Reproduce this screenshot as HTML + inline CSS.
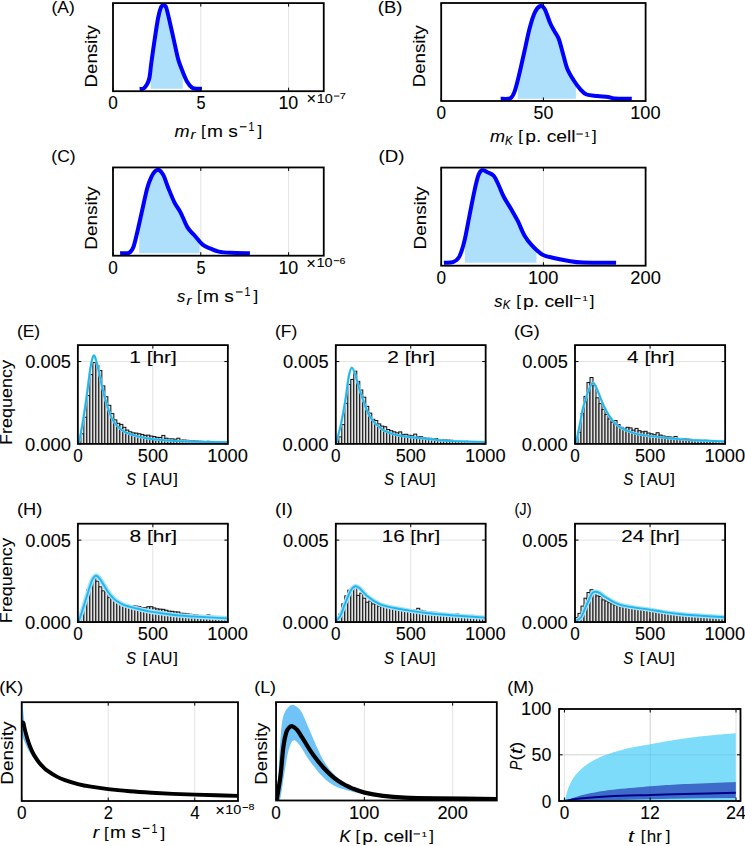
<!DOCTYPE html><html><head><meta charset="utf-8"><style>html,body{margin:0;padding:0;background:#fff;}svg{display:block;}text{font-family:"Liberation Sans",sans-serif;fill:#000;stroke:#000;stroke-width:0.08px;white-space:pre;}</style></head><body>
<svg width="745" height="846" viewBox="0 0 745 846">
<rect width="745" height="846" fill="#fff"/>
<line x1="200.81" y1="3.1" x2="200.81" y2="91.2" stroke="#e3e3e3" stroke-width="1"/>
<line x1="288.62" y1="3.1" x2="288.62" y2="91.2" stroke="#e3e3e3" stroke-width="1"/>
<clipPath id="c1"><rect x="113" y="3.1" width="210.75" height="88.1"/></clipPath><g clip-path="url(#c1)">
<polygon points="150.8,88.8 150.8,66.93 150.87,66.31 151,65.21 151.14,64.07 151.3,62.9 151.47,61.67 151.65,60.36 151.84,59 152.04,57.58 152.24,56.11 152.46,54.61 152.68,53.07 152.9,51.52 153.13,49.95 153.35,48.38 153.58,46.81 153.81,45.25 154.04,43.71 154.26,42.2 154.48,40.73 154.7,39.3 154.91,37.89 155.13,36.45 155.35,35.01 155.56,33.56 155.78,32.11 156,30.67 156.22,29.24 156.44,27.82 156.65,26.44 156.87,25.09 157.08,23.77 157.29,22.5 157.5,21.29 157.7,20.13 157.9,19.03 158.1,18 158.29,17.04 158.48,16.12 158.67,15.26 158.85,14.44 159.03,13.67 159.21,12.95 159.38,12.26 159.56,11.61 159.73,11 159.9,10.43 160.07,9.89 160.24,9.38 160.4,8.89 160.57,8.44 160.73,8.01 160.9,7.6 161.06,7.23 161.22,6.89 161.38,6.6 161.54,6.35 161.69,6.13 161.85,5.94 162,5.79 162.15,5.66 162.3,5.55 162.45,5.47 162.61,5.41 162.76,5.36 162.92,5.33 163.08,5.31 163.24,5.3 163.4,5.3 163.56,5.29 163.73,5.27 163.89,5.24 164.05,5.2 164.21,5.18 164.37,5.18 164.53,5.19 164.69,5.24 164.86,5.32 165.03,5.45 165.21,5.63 165.39,5.88 165.58,6.19 165.78,6.57 165.99,7.04 166.2,7.6 166.42,8.26 166.66,9.01 166.9,9.85 167.14,10.76 167.4,11.75 167.66,12.79 167.92,13.89 168.19,15.03 168.47,16.21 168.74,17.41 169.02,18.63 169.3,19.86 169.57,21.09 169.85,22.31 170.13,23.52 170.4,24.7 170.68,25.89 170.96,27.11 171.24,28.37 171.53,29.66 171.82,30.97 172.11,32.29 172.41,33.62 172.7,34.95 172.99,36.28 173.28,37.59 173.56,38.89 173.85,40.16 174.12,41.41 174.39,42.62 174.65,43.78 174.9,44.9 175.14,45.97 175.37,47.02 175.59,48.03 175.8,49.02 176.01,49.98 176.21,50.92 176.4,51.84 176.6,52.74 176.8,53.63 176.99,54.5 177.19,55.37 177.4,56.22 177.61,57.07 177.83,57.91 178.06,58.76 178.3,59.6 178.55,60.44 178.81,61.27 179.08,62.09 179.35,62.9 179.63,63.69 179.91,64.48 180.19,65.27 180.48,66.04 180.77,66.8 181.06,67.55 181.36,68.3 181.65,69.04 181.94,69.76 182.23,70.48 182.52,71.2 182.8,71.9 182.8,71.9 182.8,88.8" fill="#aee0fc"/>
<path d="M139.6,88.8 C140.25,88.77 142.23,89.4 143.5,88.6 C144.77,87.8 146.2,85.85 147.2,84 C148.2,82.15 148.82,81.02 149.5,77.5 C150.18,73.98 150.43,69.27 151.3,62.9 C152.17,56.53 153.57,46.78 154.7,39.3 C155.83,31.82 157.07,23.28 158.1,18 C159.13,12.72 160.02,9.72 160.9,7.6 C161.78,5.48 162.52,5.3 163.4,5.3 C164.28,5.3 165.03,4.37 166.2,7.6 C167.37,10.83 168.95,18.48 170.4,24.7 C171.85,30.92 173.58,39.08 174.9,44.9 C176.22,50.72 176.98,55.1 178.3,59.6 C179.62,64.1 181.3,68.17 182.8,71.9 C184.3,75.63 185.77,79.38 187.3,82 C188.83,84.62 190.55,86.48 192,87.6 C193.45,88.72 194.35,88.5 196,88.7 C197.65,88.9 200.92,88.78 201.9,88.8" fill="none" stroke="#0000ff" stroke-width="4.0" stroke-linejoin="round" stroke-linecap="butt"/>
</g>
<line x1="113" y1="91.2" x2="113" y2="87.7" stroke="#000" stroke-width="1"/>
<line x1="113" y1="3.1" x2="113" y2="6.6" stroke="#000" stroke-width="1"/>
<line x1="200.81" y1="91.2" x2="200.81" y2="87.7" stroke="#000" stroke-width="1"/>
<line x1="200.81" y1="3.1" x2="200.81" y2="6.6" stroke="#000" stroke-width="1"/>
<line x1="288.62" y1="91.2" x2="288.62" y2="87.7" stroke="#000" stroke-width="1"/>
<line x1="288.62" y1="3.1" x2="288.62" y2="6.6" stroke="#000" stroke-width="1"/>
<rect x="113" y="3.1" width="210.75" height="88.1" fill="none" stroke="#000" stroke-width="1.8"/>
<text x="108.3" y="109.2" font-size="18" textLength="9.54" lengthAdjust="spacingAndGlyphs">0</text>
<text x="196.39" y="109.2" font-size="18" textLength="9.07" lengthAdjust="spacingAndGlyphs">5</text>
<text x="278.46" y="109.2" font-size="18" textLength="19.85" lengthAdjust="spacingAndGlyphs">10</text>
<text x="306.55" y="104.1" font-size="16" textLength="9.58" lengthAdjust="spacingAndGlyphs">×</text>
<text x="316.72" y="102.6" font-size="12.6" textLength="16.02" lengthAdjust="spacingAndGlyphs">10</text>
<rect x="334" y="95.6" width="5.4" height="0.95"/>
<text x="339.75" y="99" font-size="8.6" textLength="6.11" lengthAdjust="spacingAndGlyphs">7</text>
<text x="51.56" y="12.75" font-size="17" textLength="23.14" lengthAdjust="spacingAndGlyphs">(A)</text>
<text transform="translate(96.6,86) rotate(-90)" x="-1.49" y="0" font-size="17" textLength="62.29" lengthAdjust="spacingAndGlyphs">Density</text>
<text x="174.63" y="136.8" font-size="17" font-style="italic" textLength="15.06" lengthAdjust="spacingAndGlyphs">m</text>
<text x="190.59" y="139.4" font-size="12" font-style="italic" textLength="5.04" lengthAdjust="spacingAndGlyphs">r</text>
<text x="201.04" y="135.9" font-size="15.3" textLength="4.67" lengthAdjust="spacingAndGlyphs">[</text>
<text x="206.98" y="136.8" font-size="17" textLength="30.83" lengthAdjust="spacingAndGlyphs">m s</text>
<rect x="239.92" y="126.2" width="6.6" height="1.15"/>
<text x="248.53" y="131.1" font-size="11.9" textLength="5.88" lengthAdjust="spacingAndGlyphs">1</text>
<text x="257.44" y="135.9" font-size="15.3" textLength="4.67" lengthAdjust="spacingAndGlyphs">]</text>
<line x1="543.4" y1="3" x2="543.4" y2="101" stroke="#e3e3e3" stroke-width="1"/>
<clipPath id="c2"><rect x="441.2" y="3" width="204.4" height="98"/></clipPath><g clip-path="url(#c2)">
<polygon points="517.9,98.8 517.9,79.74 518.13,78.81 518.41,77.63 518.7,76.43 519,75.2 519.31,73.93 519.62,72.61 519.95,71.23 520.28,69.81 520.61,68.36 520.95,66.87 521.29,65.36 521.64,63.83 521.99,62.28 522.33,60.72 522.68,59.16 523.03,57.6 523.38,56.05 523.72,54.51 524.06,52.99 524.4,51.5 524.73,50.01 525.07,48.49 525.4,46.96 525.73,45.42 526.06,43.87 526.39,42.31 526.72,40.76 527.05,39.22 527.38,37.7 527.71,36.2 528.04,34.72 528.37,33.27 528.7,31.86 529.03,30.49 529.37,29.17 529.7,27.9 530.03,26.67 530.37,25.46 530.71,24.27 531.04,23.11 531.38,21.97 531.72,20.86 532.06,19.78 532.39,18.74 532.73,17.73 533.07,16.75 533.41,15.82 533.75,14.93 534.09,14.07 534.42,13.27 534.76,12.51 535.1,11.8 535.44,11.14 535.78,10.52 536.13,9.95 536.48,9.41 536.82,8.92 537.17,8.48 537.52,8.07 537.87,7.69 538.21,7.36 538.56,7.06 538.89,6.8 539.23,6.58 539.56,6.38 539.88,6.22 540.19,6.1 540.5,6 540.8,5.93 541.08,5.9 541.36,5.89 541.63,5.92 541.89,5.98 542.15,6.08 542.4,6.21 542.66,6.38 542.91,6.58 543.16,6.83 543.42,7.12 543.68,7.44 543.95,7.82 544.22,8.23 544.51,8.69 544.8,9.2 545.11,9.78 545.42,10.46 545.75,11.21 546.08,12.04 546.42,12.92 546.76,13.85 547.1,14.81 547.45,15.79 547.8,16.79 548.14,17.78 548.48,18.75 548.82,19.7 549.15,20.61 549.48,21.48 549.79,22.27 550.1,23 550.4,23.66 550.69,24.29 550.97,24.88 551.25,25.44 551.52,25.97 551.79,26.48 552.05,26.97 552.31,27.44 552.57,27.9 552.83,28.35 553.09,28.8 553.35,29.24 553.61,29.69 553.87,30.15 554.13,30.62 554.4,31.1 554.67,31.58 554.94,32.02 555.21,32.45 555.47,32.86 555.74,33.26 556.01,33.66 556.28,34.06 556.55,34.47 556.82,34.89 557.09,35.33 557.36,35.8 557.62,36.29 557.89,36.82 558.16,37.4 558.43,38.02 558.7,38.7 558.97,39.43 559.24,40.22 559.51,41.05 559.78,41.93 560.04,42.84 560.31,43.78 560.58,44.75 560.85,45.74 561.12,46.74 561.39,47.75 561.66,48.76 561.92,49.78 562.19,50.78 562.46,51.77 562.73,52.75 563,53.7 563.26,54.64 563.52,55.6 563.77,56.56 564.02,57.52 564.27,58.49 564.52,59.47 564.76,60.43 565.01,61.4 565.27,62.36 565.53,63.31 565.79,64.25 566.07,65.18 566.36,66.09 566.66,66.98 566.97,67.85 567.3,68.7 567.65,69.53 568.01,70.35 568.38,71.16 568.77,71.95 569.17,72.73 569.58,73.5 570,74.26 570.42,75 570.84,75.73 571.27,76.45 571.7,77.16 572.13,77.85 572.56,78.53 572.98,79.2 573.39,79.86 573.8,80.5 574.2,81.13 574.6,81.75 575.01,82.36 575.41,82.95 575.81,83.53 575.9,83.66 575.9,98.8" fill="#aee0fc"/>
<path d="M500.7,98.8 C502.32,98.7 508.07,99.47 510.4,98.2 C512.73,96.93 513.27,95.03 514.7,91.2 C516.13,87.37 517.38,81.82 519,75.2 C520.62,68.58 522.62,59.38 524.4,51.5 C526.18,43.62 527.92,34.52 529.7,27.9 C531.48,21.28 533.3,15.45 535.1,11.8 C536.9,8.15 538.88,6.43 540.5,6 C542.12,5.57 543.2,6.37 544.8,9.2 C546.4,12.03 548.5,19.35 550.1,23 C551.7,26.65 552.97,28.48 554.4,31.1 C555.83,33.72 557.27,34.93 558.7,38.7 C560.13,42.47 561.57,48.7 563,53.7 C564.43,58.7 565.5,64.23 567.3,68.7 C569.1,73.17 571.65,77.1 573.8,80.5 C575.95,83.9 578.07,86.77 580.2,89.1 C582.33,91.43 583.73,93.35 586.6,94.5 C589.47,95.65 593.82,95.57 597.4,96 C600.98,96.43 605.23,96.7 608.1,97.1 C610.97,97.5 610.65,98.12 614.6,98.4 C618.55,98.68 628.93,98.73 631.8,98.8" fill="none" stroke="#0000ff" stroke-width="4.0" stroke-linejoin="round" stroke-linecap="butt"/>
</g>
<line x1="441.2" y1="101" x2="441.2" y2="97.5" stroke="#000" stroke-width="1"/>
<line x1="441.2" y1="3" x2="441.2" y2="6.5" stroke="#000" stroke-width="1"/>
<line x1="543.4" y1="101" x2="543.4" y2="97.5" stroke="#000" stroke-width="1"/>
<line x1="543.4" y1="3" x2="543.4" y2="6.5" stroke="#000" stroke-width="1"/>
<line x1="645.6" y1="101" x2="645.6" y2="97.5" stroke="#000" stroke-width="1"/>
<line x1="645.6" y1="3" x2="645.6" y2="6.5" stroke="#000" stroke-width="1"/>
<rect x="441.2" y="3" width="204.4" height="98" fill="none" stroke="#000" stroke-width="1.8"/>
<text x="436.5" y="118.9" font-size="18" textLength="9.54" lengthAdjust="spacingAndGlyphs">0</text>
<text x="533.58" y="118.9" font-size="18" textLength="19.8" lengthAdjust="spacingAndGlyphs">50</text>
<text x="630.2" y="118.9" font-size="18" textLength="30.34" lengthAdjust="spacingAndGlyphs">100</text>
<text x="377.79" y="12.75" font-size="17" textLength="24.57" lengthAdjust="spacingAndGlyphs">(B)</text>
<text transform="translate(425.2,85.7) rotate(-90)" x="-1.49" y="0" font-size="17" textLength="61.98" lengthAdjust="spacingAndGlyphs">Density</text>
<text x="490.13" y="142" font-size="17" font-style="italic" textLength="15.06" lengthAdjust="spacingAndGlyphs">m</text>
<text x="504.98" y="144.6" font-size="12" font-style="italic" textLength="7.57" lengthAdjust="spacingAndGlyphs">K</text>
<text x="518.34" y="141.1" font-size="15.3" textLength="4.67" lengthAdjust="spacingAndGlyphs">[</text>
<text x="525.16" y="142" font-size="17" textLength="50.46" lengthAdjust="spacingAndGlyphs">p. cell</text>
<rect x="576.42" y="133.5" width="6.4" height="1.05"/>
<text x="584.36" y="136.6" font-size="7.6" textLength="5.63" lengthAdjust="spacingAndGlyphs">1</text>
<text x="592.04" y="141.1" font-size="15.3" textLength="4.67" lengthAdjust="spacingAndGlyphs">]</text>
<line x1="200.81" y1="167.45" x2="200.81" y2="255.7" stroke="#e3e3e3" stroke-width="1"/>
<line x1="288.62" y1="167.45" x2="288.62" y2="255.7" stroke="#e3e3e3" stroke-width="1"/>
<clipPath id="c3"><rect x="113" y="167.45" width="210.75" height="88.25"/></clipPath><g clip-path="url(#c3)">
<polygon points="139.2,253.2 139.2,223.8 139.32,223.27 139.64,221.84 139.96,220.39 140.28,218.93 140.6,217.47 140.93,216.01 141.25,214.56 141.57,213.12 141.89,211.7 142.2,210.3 142.51,208.9 142.83,207.46 143.15,205.99 143.47,204.51 143.79,203.02 144.11,201.52 144.44,200.03 144.76,198.56 145.07,197.1 145.39,195.68 145.7,194.29 146.01,192.95 146.32,191.66 146.62,190.44 146.91,189.28 147.2,188.2 147.48,187.19 147.76,186.25 148.03,185.37 148.29,184.53 148.55,183.75 148.81,183.01 149.06,182.31 149.31,181.64 149.56,181.01 149.81,180.41 150.06,179.82 150.3,179.26 150.55,178.71 150.8,178.17 151.05,177.63 151.3,177.1 151.55,176.58 151.8,176.07 152.06,175.59 152.31,175.12 152.56,174.68 152.81,174.26 153.06,173.85 153.31,173.47 153.56,173.1 153.8,172.76 154.05,172.43 154.3,172.13 154.55,171.84 154.8,171.58 155.05,171.33 155.3,171.1 155.55,170.89 155.8,170.69 156.05,170.52 156.3,170.36 156.55,170.22 156.8,170.1 157.04,169.99 157.29,169.91 157.54,169.85 157.79,169.82 158.04,169.8 158.29,169.81 158.54,169.84 158.8,169.9 159.05,169.99 159.3,170.1 159.55,170.23 159.8,170.38 160.05,170.55 160.3,170.74 160.54,170.95 160.79,171.18 161.04,171.44 161.29,171.72 161.54,172.03 161.79,172.37 162.05,172.74 162.31,173.14 162.57,173.58 162.84,174.05 163.12,174.55 163.4,175.1 163.69,175.69 163.98,176.34 164.27,177.04 164.56,177.78 164.86,178.56 165.17,179.38 165.47,180.22 165.78,181.08 166.09,181.96 166.41,182.86 166.73,183.76 167.06,184.66 167.39,185.57 167.72,186.46 168.06,187.34 168.4,188.2 168.75,189.06 169.1,189.94 169.46,190.84 169.83,191.75 170.2,192.67 170.57,193.59 170.95,194.52 171.33,195.44 171.71,196.36 172.1,197.27 172.48,198.16 172.87,199.04 173.25,199.9 173.64,200.73 174.02,201.53 174.4,202.3 174.78,203.03 175.15,203.71 175.52,204.36 175.9,204.97 176.27,205.56 176.64,206.13 177.01,206.68 177.39,207.24 177.76,207.79 178.14,208.36 178.52,208.94 178.91,209.54 179.3,210.17 179.69,210.83 180.09,211.54 180.5,212.3 180.91,213.12 181.33,213.99 181.76,214.92 182.18,215.88 182.62,216.88 183.05,217.9 183.49,218.93 183.94,219.97 184.38,221 184.83,222.03 185.27,223.03 185.72,224 186.17,224.93 186.61,225.81 187.06,226.64 187.5,227.4 187.94,228.1 188.38,228.74 188.81,229.34 189.25,229.89 189.68,230.41 190.12,230.91 190.55,231.37 190.99,231.82 191.43,232.26 191.87,232.7 192.31,233.13 192.76,233.57 193.21,234.02 193.67,234.49 194.13,234.98 194.6,235.5 195.08,236.05 195.56,236.62 196.04,237.22 196.53,237.82 197.03,238.44 197.53,239.06 198.03,239.69 198.54,240.31 199.04,240.92 199.55,241.52 199.6,241.57 199.6,253.2" fill="#aee0fc"/>
<path d="M120.1,253.2 C121.6,253.13 126.92,253.73 129.1,252.8 C131.28,251.87 131.85,250.98 133.2,247.6 C134.55,244.22 135.7,238.72 137.2,232.5 C138.7,226.28 140.53,217.68 142.2,210.3 C143.87,202.92 145.68,193.73 147.2,188.2 C148.72,182.67 149.95,179.95 151.3,177.1 C152.65,174.25 153.97,172.27 155.3,171.1 C156.63,169.93 157.95,169.43 159.3,170.1 C160.65,170.77 161.88,172.08 163.4,175.1 C164.92,178.12 166.57,183.67 168.4,188.2 C170.23,192.73 172.38,198.28 174.4,202.3 C176.42,206.32 178.32,208.12 180.5,212.3 C182.68,216.48 185.15,223.53 187.5,227.4 C189.85,231.27 192.08,232.63 194.6,235.5 C197.12,238.37 199.92,242.42 202.6,244.6 C205.28,246.78 208.02,247.43 210.7,248.6 C213.38,249.77 215.35,250.9 218.7,251.6 C222.05,252.3 225.6,252.53 230.8,252.8 C236,253.07 246.72,253.13 249.9,253.2" fill="none" stroke="#0000ff" stroke-width="4.0" stroke-linejoin="round" stroke-linecap="butt"/>
</g>
<line x1="113" y1="255.7" x2="113" y2="252.2" stroke="#000" stroke-width="1"/>
<line x1="113" y1="167.45" x2="113" y2="170.95" stroke="#000" stroke-width="1"/>
<line x1="200.81" y1="255.7" x2="200.81" y2="252.2" stroke="#000" stroke-width="1"/>
<line x1="200.81" y1="167.45" x2="200.81" y2="170.95" stroke="#000" stroke-width="1"/>
<line x1="288.62" y1="255.7" x2="288.62" y2="252.2" stroke="#000" stroke-width="1"/>
<line x1="288.62" y1="167.45" x2="288.62" y2="170.95" stroke="#000" stroke-width="1"/>
<rect x="113" y="167.45" width="210.75" height="88.25" fill="none" stroke="#000" stroke-width="1.8"/>
<text x="108.3" y="273.7" font-size="18" textLength="9.54" lengthAdjust="spacingAndGlyphs">0</text>
<text x="196.39" y="273.7" font-size="18" textLength="9.07" lengthAdjust="spacingAndGlyphs">5</text>
<text x="278.46" y="273.7" font-size="18" textLength="19.85" lengthAdjust="spacingAndGlyphs">10</text>
<text x="306.35" y="268.7" font-size="16" textLength="9.58" lengthAdjust="spacingAndGlyphs">×</text>
<text x="316.52" y="267.2" font-size="12.6" textLength="16.02" lengthAdjust="spacingAndGlyphs">10</text>
<rect x="333.8" y="260.2" width="5.4" height="0.95"/>
<text x="339.56" y="263.6" font-size="8.6" textLength="5.98" lengthAdjust="spacingAndGlyphs">6</text>
<text x="51.35" y="162" font-size="17" textLength="24.25" lengthAdjust="spacingAndGlyphs">(C)</text>
<text transform="translate(96.8,248.2) rotate(-90)" x="-1.52" y="0" font-size="17" textLength="63.21" lengthAdjust="spacingAndGlyphs">Density</text>
<text x="176.92" y="302" font-size="17" font-style="italic" textLength="8.25" lengthAdjust="spacingAndGlyphs">s</text>
<text x="186.61" y="304.6" font-size="12" font-style="italic" textLength="5.04" lengthAdjust="spacingAndGlyphs">r</text>
<text x="197.06" y="301.1" font-size="15.3" textLength="4.67" lengthAdjust="spacingAndGlyphs">[</text>
<text x="203" y="302" font-size="17" textLength="30.83" lengthAdjust="spacingAndGlyphs">m s</text>
<rect x="235.94" y="291.4" width="6.6" height="1.15"/>
<text x="244.55" y="296.3" font-size="11.9" textLength="5.88" lengthAdjust="spacingAndGlyphs">1</text>
<text x="253.46" y="301.1" font-size="15.3" textLength="4.67" lengthAdjust="spacingAndGlyphs">]</text>
<line x1="543.4" y1="167.6" x2="543.4" y2="265.7" stroke="#e3e3e3" stroke-width="1"/>
<clipPath id="c4"><rect x="441.2" y="167.6" width="204.4" height="98.1"/></clipPath><g clip-path="url(#c4)">
<polygon points="464.8,262.8 464.8,239.5 464.94,238.9 465.26,237.45 465.57,235.94 465.89,234.38 466.21,232.78 466.53,231.15 466.85,229.49 467.17,227.81 467.49,226.11 467.81,224.41 468.12,222.71 468.44,221.03 468.76,219.36 469.08,217.71 469.4,216.1 469.72,214.49 470.05,212.84 470.37,211.17 470.7,209.49 471.03,207.79 471.37,206.09 471.7,204.39 472.02,202.71 472.35,201.05 472.68,199.42 472.99,197.82 473.31,196.26 473.62,194.75 473.92,193.3 474.21,191.91 474.5,190.6 474.78,189.34 475.05,188.13 475.31,186.95 475.56,185.82 475.81,184.72 476.05,183.67 476.29,182.65 476.53,181.68 476.77,180.74 477,179.84 477.23,178.99 477.46,178.17 477.69,177.39 477.93,176.65 478.16,175.96 478.4,175.3 478.64,174.69 478.87,174.13 479.1,173.61 479.33,173.14 479.55,172.71 479.78,172.33 480,171.98 480.22,171.67 480.45,171.39 480.68,171.14 480.92,170.93 481.16,170.74 481.41,170.57 481.66,170.43 481.93,170.31 482.2,170.2 482.48,170.13 482.77,170.1 483.06,170.11 483.35,170.16 483.65,170.25 483.96,170.36 484.27,170.5 484.59,170.66 484.91,170.83 485.24,171.02 485.57,171.22 485.9,171.42 486.24,171.62 486.59,171.82 486.94,172.02 487.3,172.2 487.67,172.37 488.05,172.53 488.44,172.69 488.84,172.84 489.25,173 489.66,173.16 490.08,173.34 490.5,173.52 490.92,173.72 491.34,173.93 491.75,174.17 492.16,174.43 492.56,174.72 492.95,175.05 493.33,175.4 493.7,175.8 494.05,176.24 494.4,176.71 494.74,177.22 495.07,177.75 495.39,178.32 495.71,178.91 496.02,179.52 496.33,180.16 496.64,180.8 496.94,181.46 497.25,182.13 497.56,182.81 497.86,183.48 498.17,184.16 498.48,184.83 498.8,185.5 499.11,186.17 499.42,186.84 499.72,187.53 500.02,188.22 500.31,188.92 500.6,189.63 500.9,190.34 501.19,191.06 501.5,191.79 501.8,192.52 502.12,193.26 502.45,194 502.79,194.74 503.14,195.49 503.51,196.24 503.9,197 504.31,197.76 504.74,198.54 505.19,199.32 505.65,200.12 506.13,200.92 506.62,201.73 507.12,202.54 507.62,203.35 508.12,204.16 508.63,204.97 509.13,205.78 509.63,206.58 510.11,207.38 510.59,208.16 511.05,208.94 511.5,209.7 511.93,210.45 512.36,211.18 512.77,211.89 513.18,212.6 513.59,213.3 513.99,213.99 514.38,214.68 514.77,215.37 515.16,216.06 515.55,216.76 515.94,217.46 516.33,218.18 516.72,218.91 517.11,219.65 517.5,220.41 517.9,221.2 518.3,222.01 518.69,222.86 519.08,223.72 519.47,224.61 519.86,225.52 520.25,226.43 520.64,227.36 521.02,228.28 521.42,229.2 521.81,230.12 522.21,231.02 522.62,231.91 523.03,232.77 523.44,233.61 523.87,234.42 524.3,235.2 524.74,235.94 525.17,236.67 525.61,237.36 526.05,238.05 526.5,238.71 526.95,239.36 527.4,239.99 527.86,240.61 528.33,241.23 528.81,241.83 529.29,242.43 529.79,243.02 530.3,243.62 530.82,244.21 531.35,244.8 531.9,245.4 532.46,246 533.03,246.62 533.61,247.24 534.21,247.86 534.81,248.48 535.42,249.09 536.04,249.7 536.5,250.13 536.5,262.8" fill="#aee0fc"/>
<path d="M443.9,262.8 C445.4,262.7 450.35,263.18 452.9,262.2 C455.45,261.22 457.3,260.33 459.2,256.9 C461.1,253.47 462.6,248.4 464.3,241.6 C466,234.8 467.7,224.6 469.4,216.1 C471.1,207.6 473,197.4 474.5,190.6 C476,183.8 477.12,178.7 478.4,175.3 C479.68,171.9 480.72,170.72 482.2,170.2 C483.68,169.68 485.38,171.27 487.3,172.2 C489.22,173.13 491.78,173.58 493.7,175.8 C495.62,178.02 497.1,181.97 498.8,185.5 C500.5,189.03 501.78,192.97 503.9,197 C506.02,201.03 509.17,205.67 511.5,209.7 C513.83,213.73 515.77,216.95 517.9,221.2 C520.03,225.45 521.97,231.17 524.3,235.2 C526.63,239.23 528.93,242.2 531.9,245.4 C534.87,248.6 538.27,252.27 542.1,254.4 C545.93,256.53 550.65,257.15 554.9,258.2 C559.15,259.25 562.93,259.98 567.6,260.7 C572.27,261.42 574.82,262.15 582.9,262.5 C590.98,262.85 610.57,262.75 616.1,262.8" fill="none" stroke="#0000ff" stroke-width="4.0" stroke-linejoin="round" stroke-linecap="butt"/>
</g>
<line x1="441.2" y1="265.7" x2="441.2" y2="262.2" stroke="#000" stroke-width="1"/>
<line x1="441.2" y1="167.6" x2="441.2" y2="171.1" stroke="#000" stroke-width="1"/>
<line x1="543.4" y1="265.7" x2="543.4" y2="262.2" stroke="#000" stroke-width="1"/>
<line x1="543.4" y1="167.6" x2="543.4" y2="171.1" stroke="#000" stroke-width="1"/>
<line x1="645.6" y1="265.7" x2="645.6" y2="262.2" stroke="#000" stroke-width="1"/>
<line x1="645.6" y1="167.6" x2="645.6" y2="171.1" stroke="#000" stroke-width="1"/>
<rect x="441.2" y="167.6" width="204.4" height="98.1" fill="none" stroke="#000" stroke-width="1.8"/>
<text x="436.5" y="283.6" font-size="18" textLength="9.54" lengthAdjust="spacingAndGlyphs">0</text>
<text x="528" y="283.6" font-size="18" textLength="30.34" lengthAdjust="spacingAndGlyphs">100</text>
<text x="630.36" y="283.6" font-size="18" textLength="30.47" lengthAdjust="spacingAndGlyphs">200</text>
<text x="378.48" y="162.2" font-size="17" textLength="25.9" lengthAdjust="spacingAndGlyphs">(D)</text>
<text transform="translate(425.6,248) rotate(-90)" x="-1.51" y="0" font-size="17" textLength="63" lengthAdjust="spacingAndGlyphs">Density</text>
<text x="494.22" y="306.5" font-size="17" font-style="italic" textLength="8.25" lengthAdjust="spacingAndGlyphs">s</text>
<text x="502.8" y="309.1" font-size="12" font-style="italic" textLength="7.57" lengthAdjust="spacingAndGlyphs">K</text>
<text x="516.16" y="305.6" font-size="15.3" textLength="4.67" lengthAdjust="spacingAndGlyphs">[</text>
<text x="522.98" y="306.5" font-size="17" textLength="50.46" lengthAdjust="spacingAndGlyphs">p. cell</text>
<rect x="574.24" y="298" width="6.4" height="1.05"/>
<text x="582.18" y="301.1" font-size="7.6" textLength="5.63" lengthAdjust="spacingAndGlyphs">1</text>
<text x="589.86" y="305.6" font-size="15.3" textLength="4.67" lengthAdjust="spacingAndGlyphs">]</text>
<line x1="152.85" y1="345.1" x2="152.85" y2="443.9" stroke="#e3e3e3" stroke-width="1"/>
<line x1="77.85" y1="361.57" x2="227.85" y2="361.57" stroke="#e3e3e3" stroke-width="1"/>
<clipPath id="c5"><rect x="77.85" y="345.1" width="150" height="98.8"/></clipPath><g clip-path="url(#c5)">
<g fill="#e0e0e0" stroke="#101010" stroke-width="1.0">
<rect x="77.85" y="441.23" width="3" height="2.67"/>
<rect x="80.85" y="433.8" width="3" height="10.1"/>
<rect x="83.85" y="417.2" width="3" height="26.7"/>
<rect x="86.85" y="395.6" width="3" height="48.3"/>
<rect x="89.85" y="374.6" width="3" height="69.3"/>
<rect x="92.85" y="362.6" width="3" height="81.3"/>
<rect x="95.85" y="365.5" width="3" height="78.4"/>
<rect x="98.85" y="370.6" width="3" height="73.3"/>
<rect x="101.85" y="385.9" width="3" height="58"/>
<rect x="104.85" y="396.7" width="3" height="47.2"/>
<rect x="107.85" y="405.3" width="3" height="38.6"/>
<rect x="110.85" y="413.6" width="3" height="30.3"/>
<rect x="113.85" y="419.9" width="3" height="24"/>
<rect x="116.85" y="423.3" width="3" height="20.6"/>
<rect x="119.85" y="424.4" width="3" height="19.5"/>
<rect x="122.85" y="427.3" width="3" height="16.6"/>
<rect x="125.85" y="430.1" width="3" height="13.8"/>
<rect x="128.85" y="431.8" width="3" height="12.1"/>
<rect x="131.85" y="432.9" width="3" height="11"/>
<rect x="134.85" y="433.12" width="3" height="10.78"/>
<rect x="137.85" y="433.79" width="3" height="10.11"/>
<rect x="140.85" y="434.41" width="3" height="9.49"/>
<rect x="143.85" y="435.33" width="3" height="8.57"/>
<rect x="146.85" y="435.15" width="3" height="8.75"/>
<rect x="149.85" y="436.06" width="3" height="7.84"/>
<rect x="152.85" y="436.55" width="3" height="7.35"/>
<rect x="155.85" y="437.34" width="3" height="6.56"/>
<rect x="158.85" y="437.44" width="3" height="6.46"/>
<rect x="161.85" y="435.42" width="3" height="8.48"/>
<rect x="164.85" y="438.22" width="3" height="5.68"/>
<rect x="167.85" y="438.91" width="3" height="4.99"/>
<rect x="170.85" y="438.91" width="3" height="4.99"/>
<rect x="173.85" y="439.23" width="3" height="4.67"/>
<rect x="176.85" y="438.23" width="3" height="5.67"/>
<rect x="179.85" y="440.14" width="3" height="3.76"/>
<rect x="182.85" y="440.06" width="3" height="3.84"/>
<rect x="185.85" y="440.31" width="3" height="3.59"/>
<rect x="188.85" y="440.54" width="3" height="3.36"/>
<rect x="191.85" y="440.7" width="3" height="3.2"/>
<rect x="194.85" y="440.96" width="3" height="2.94"/>
<rect x="197.85" y="441.15" width="3" height="2.75"/>
<rect x="200.85" y="441.33" width="3" height="2.57"/>
<rect x="203.85" y="441.84" width="3" height="2.06"/>
<rect x="206.85" y="441.27" width="3" height="2.63"/>
<rect x="209.85" y="441.81" width="3" height="2.09"/>
<rect x="212.85" y="441.95" width="3" height="1.95"/>
<rect x="215.85" y="442.36" width="3" height="1.54"/>
<rect x="218.85" y="442.17" width="3" height="1.73"/>
<rect x="221.85" y="441.93" width="3" height="1.97"/>
<rect x="224.85" y="442.37" width="3" height="1.53"/>
</g>
<path d="M78.8,442.6 C78.9,442.32 78.63,444.97 79.4,440.9 C80.17,436.83 82.17,425.77 83.4,418.2 C84.63,410.63 85.67,403.65 86.8,395.5 C87.93,387.35 89.07,375.95 90.2,369.3 C91.33,362.65 92.47,356.55 93.6,355.6 C94.73,354.65 95.68,358.85 97,363.6 C98.32,368.35 99.98,377.65 101.5,384.1 C103.02,390.55 104.38,396.62 106.1,402.3 C107.82,407.98 109.98,414.28 111.8,418.2 C113.62,422.12 115.3,423.8 117,425.8 C118.7,427.8 120.27,428.97 122,430.2 C123.73,431.43 125.27,432.28 127.4,433.2 C129.53,434.12 131.12,434.78 134.8,435.7 C138.48,436.62 144.58,437.95 149.5,438.7 C154.42,439.45 159.37,439.8 164.3,440.2 C169.23,440.6 174.17,440.85 179.1,441.1 C184.03,441.35 185.75,441.52 193.9,441.7 C202.05,441.88 222.32,442.12 228,442.2" fill="none" stroke="#a6e2f8" stroke-width="2.5" stroke-linejoin="round" stroke-linecap="round"/>
<path d="M78.8,442.6 C78.9,442.32 78.63,444.97 79.4,440.9 C80.17,436.83 82.17,425.77 83.4,418.2 C84.63,410.63 85.67,403.65 86.8,395.5 C87.93,387.35 89.07,375.95 90.2,369.3 C91.33,362.65 92.47,356.55 93.6,355.6 C94.73,354.65 95.68,358.85 97,363.6 C98.32,368.35 99.98,377.65 101.5,384.1 C103.02,390.55 104.38,396.62 106.1,402.3 C107.82,407.98 109.98,414.28 111.8,418.2 C113.62,422.12 115.3,423.8 117,425.8 C118.7,427.8 120.27,428.97 122,430.2 C123.73,431.43 125.27,432.28 127.4,433.2 C129.53,434.12 131.12,434.78 134.8,435.7 C138.48,436.62 144.58,437.95 149.5,438.7 C154.42,439.45 159.37,439.8 164.3,440.2 C169.23,440.6 174.17,440.85 179.1,441.1 C184.03,441.35 185.75,441.52 193.9,441.7 C202.05,441.88 222.32,442.12 228,442.2" fill="none" stroke="#1fb6ee" stroke-width="1.9" stroke-linejoin="miter" stroke-linecap="round"/>
</g>
<line x1="77.85" y1="443.9" x2="77.85" y2="440.4" stroke="#000" stroke-width="1"/>
<line x1="77.85" y1="345.1" x2="77.85" y2="348.6" stroke="#000" stroke-width="1"/>
<line x1="152.85" y1="443.9" x2="152.85" y2="440.4" stroke="#000" stroke-width="1"/>
<line x1="152.85" y1="345.1" x2="152.85" y2="348.6" stroke="#000" stroke-width="1"/>
<line x1="227.85" y1="443.9" x2="227.85" y2="440.4" stroke="#000" stroke-width="1"/>
<line x1="227.85" y1="345.1" x2="227.85" y2="348.6" stroke="#000" stroke-width="1"/>
<line x1="77.85" y1="443.9" x2="81.35" y2="443.9" stroke="#000" stroke-width="1"/>
<line x1="227.85" y1="443.9" x2="224.35" y2="443.9" stroke="#000" stroke-width="1"/>
<line x1="77.85" y1="361.57" x2="81.35" y2="361.57" stroke="#000" stroke-width="1"/>
<line x1="227.85" y1="361.57" x2="224.35" y2="361.57" stroke="#000" stroke-width="1"/>
<rect x="77.85" y="345.1" width="150" height="98.8" fill="none" stroke="#000" stroke-width="1.8"/>
<text x="129.25" y="363.2" font-size="17" textLength="47.57" lengthAdjust="spacingAndGlyphs">1 [hr]</text>
<text x="73.15" y="461.9" font-size="18" textLength="9.54" lengthAdjust="spacingAndGlyphs">0</text>
<text x="137.8" y="461.9" font-size="18" textLength="30.28" lengthAdjust="spacingAndGlyphs">500</text>
<text x="207.26" y="461.9" font-size="18" textLength="40.63" lengthAdjust="spacingAndGlyphs">1000</text>
<text x="25.3" y="368.17" font-size="18" textLength="45.68" lengthAdjust="spacingAndGlyphs">0.005</text>
<text x="24.97" y="450.5" font-size="18" textLength="45.92" lengthAdjust="spacingAndGlyphs">0.000</text>
<text x="16.95" y="337" font-size="17" textLength="23.23" lengthAdjust="spacingAndGlyphs">(E)</text>
<text x="126.1" y="485.3" font-size="17" font-style="italic" textLength="9.93" lengthAdjust="spacingAndGlyphs">S</text>
<text x="142.67" y="484.4" font-size="15.3" textLength="4.67" lengthAdjust="spacingAndGlyphs">[</text>
<text x="149.55" y="485.3" font-size="17" textLength="23.01" lengthAdjust="spacingAndGlyphs">AU</text>
<text x="173.17" y="484.4" font-size="15.3" textLength="4.67" lengthAdjust="spacingAndGlyphs">]</text>
<text transform="translate(11.7,443.6) rotate(-90)" x="-1.44" y="0" font-size="17" textLength="85.14" lengthAdjust="spacingAndGlyphs">Frequency</text>
<line x1="410.73" y1="345.1" x2="410.73" y2="443.9" stroke="#e3e3e3" stroke-width="1"/>
<line x1="335.8" y1="361.57" x2="485.65" y2="361.57" stroke="#e3e3e3" stroke-width="1"/>
<clipPath id="c6"><rect x="335.8" y="345.1" width="149.85" height="98.8"/></clipPath><g clip-path="url(#c6)">
<g fill="#e0e0e0" stroke="#101010" stroke-width="1.0">
<rect x="335.8" y="441.34" width="3" height="2.56"/>
<rect x="338.8" y="436.84" width="3" height="7.06"/>
<rect x="341.79" y="424.6" width="3" height="19.3"/>
<rect x="344.79" y="403.3" width="3" height="40.6"/>
<rect x="347.79" y="384.4" width="3" height="59.5"/>
<rect x="350.79" y="379.4" width="3" height="64.5"/>
<rect x="353.78" y="371.2" width="3" height="72.7"/>
<rect x="356.78" y="381.4" width="3" height="62.5"/>
<rect x="359.78" y="390" width="3" height="53.9"/>
<rect x="362.77" y="397.2" width="3" height="46.7"/>
<rect x="365.77" y="406.3" width="3" height="37.6"/>
<rect x="368.77" y="413.1" width="3" height="30.8"/>
<rect x="371.76" y="419.3" width="3" height="24.6"/>
<rect x="374.76" y="420.5" width="3" height="23.4"/>
<rect x="377.76" y="423.9" width="3" height="20"/>
<rect x="380.75" y="426.1" width="3" height="17.8"/>
<rect x="383.75" y="426.7" width="3" height="17.2"/>
<rect x="386.75" y="429.5" width="3" height="14.4"/>
<rect x="389.75" y="430.7" width="3" height="13.2"/>
<rect x="392.74" y="431.8" width="3" height="12.1"/>
<rect x="395.74" y="432.82" width="3" height="11.08"/>
<rect x="398.74" y="431.91" width="3" height="11.99"/>
<rect x="401.73" y="434.43" width="3" height="9.47"/>
<rect x="404.73" y="434.29" width="3" height="9.61"/>
<rect x="407.73" y="435.23" width="3" height="8.67"/>
<rect x="410.73" y="435.75" width="3" height="8.15"/>
<rect x="413.72" y="434.1" width="3" height="9.8"/>
<rect x="416.72" y="436.7" width="3" height="7.2"/>
<rect x="419.72" y="436.74" width="3" height="7.16"/>
<rect x="422.71" y="437.54" width="3" height="6.36"/>
<rect x="425.71" y="438.27" width="3" height="5.63"/>
<rect x="428.71" y="438.29" width="3" height="5.61"/>
<rect x="431.7" y="438.63" width="3" height="5.27"/>
<rect x="434.7" y="438.56" width="3" height="5.34"/>
<rect x="437.7" y="439.59" width="3" height="4.31"/>
<rect x="440.69" y="439.54" width="3" height="4.36"/>
<rect x="443.69" y="439.81" width="3" height="4.09"/>
<rect x="446.69" y="440.06" width="3" height="3.84"/>
<rect x="449.69" y="440.24" width="3" height="3.66"/>
<rect x="452.68" y="440.52" width="3" height="3.38"/>
<rect x="455.68" y="440.74" width="3" height="3.16"/>
<rect x="458.68" y="440.93" width="3" height="2.97"/>
<rect x="461.67" y="441.46" width="3" height="2.44"/>
<rect x="464.67" y="440.9" width="3" height="3"/>
<rect x="467.67" y="441.46" width="3" height="2.44"/>
<rect x="470.66" y="441.62" width="3" height="2.28"/>
<rect x="473.66" y="442.08" width="3" height="1.82"/>
<rect x="476.66" y="441.91" width="3" height="1.99"/>
<rect x="479.66" y="441.64" width="3" height="2.26"/>
<rect x="482.65" y="442.13" width="3" height="1.77"/>
</g>
<path d="M336,443 C336.1,442.73 335.73,444.72 336.6,441.4 C337.47,438.08 339.75,429.88 341.2,423.1 C342.65,416.32 344.03,408.5 345.3,400.7 C346.57,392.9 347.7,381.82 348.8,376.3 C349.9,370.78 350.8,367.77 351.9,367.6 C353,367.43 354.13,371.65 355.4,375.3 C356.67,378.95 358.13,385.13 359.5,389.5 C360.87,393.87 362.18,397.58 363.6,401.5 C365.02,405.42 366.6,409.98 368,413 C369.4,416.02 370.65,417.73 372,419.6 C373.35,421.47 374.73,422.83 376.1,424.2 C377.47,425.57 378.85,426.73 380.2,427.8 C381.55,428.87 382.2,429.6 384.2,430.6 C386.2,431.6 389.52,432.93 392.2,433.8 C394.88,434.67 396.27,435.13 400.3,435.8 C404.33,436.47 409.93,437.07 416.4,437.8 C422.87,438.53 432.85,439.65 439.1,440.2 C445.35,440.75 446.25,440.78 453.9,441.1 C461.55,441.42 479.82,441.93 485,442.1" fill="none" stroke="#a6e2f8" stroke-width="2.5" stroke-linejoin="round" stroke-linecap="round"/>
<path d="M336,443 C336.1,442.73 335.73,444.72 336.6,441.4 C337.47,438.08 339.75,429.88 341.2,423.1 C342.65,416.32 344.03,408.5 345.3,400.7 C346.57,392.9 347.7,381.82 348.8,376.3 C349.9,370.78 350.8,367.77 351.9,367.6 C353,367.43 354.13,371.65 355.4,375.3 C356.67,378.95 358.13,385.13 359.5,389.5 C360.87,393.87 362.18,397.58 363.6,401.5 C365.02,405.42 366.6,409.98 368,413 C369.4,416.02 370.65,417.73 372,419.6 C373.35,421.47 374.73,422.83 376.1,424.2 C377.47,425.57 378.85,426.73 380.2,427.8 C381.55,428.87 382.2,429.6 384.2,430.6 C386.2,431.6 389.52,432.93 392.2,433.8 C394.88,434.67 396.27,435.13 400.3,435.8 C404.33,436.47 409.93,437.07 416.4,437.8 C422.87,438.53 432.85,439.65 439.1,440.2 C445.35,440.75 446.25,440.78 453.9,441.1 C461.55,441.42 479.82,441.93 485,442.1" fill="none" stroke="#1fb6ee" stroke-width="1.9" stroke-linejoin="miter" stroke-linecap="round"/>
</g>
<line x1="335.8" y1="443.9" x2="335.8" y2="440.4" stroke="#000" stroke-width="1"/>
<line x1="335.8" y1="345.1" x2="335.8" y2="348.6" stroke="#000" stroke-width="1"/>
<line x1="410.73" y1="443.9" x2="410.73" y2="440.4" stroke="#000" stroke-width="1"/>
<line x1="410.73" y1="345.1" x2="410.73" y2="348.6" stroke="#000" stroke-width="1"/>
<line x1="485.65" y1="443.9" x2="485.65" y2="440.4" stroke="#000" stroke-width="1"/>
<line x1="485.65" y1="345.1" x2="485.65" y2="348.6" stroke="#000" stroke-width="1"/>
<line x1="335.8" y1="443.9" x2="339.3" y2="443.9" stroke="#000" stroke-width="1"/>
<line x1="485.65" y1="443.9" x2="482.15" y2="443.9" stroke="#000" stroke-width="1"/>
<line x1="335.8" y1="361.57" x2="339.3" y2="361.57" stroke="#000" stroke-width="1"/>
<line x1="485.65" y1="361.57" x2="482.15" y2="361.57" stroke="#000" stroke-width="1"/>
<rect x="335.8" y="345.1" width="149.85" height="98.8" fill="none" stroke="#000" stroke-width="1.8"/>
<text x="387.35" y="363.2" font-size="17" textLength="47.65" lengthAdjust="spacingAndGlyphs">2 [hr]</text>
<text x="331.1" y="461.9" font-size="18" textLength="9.54" lengthAdjust="spacingAndGlyphs">0</text>
<text x="395.67" y="461.9" font-size="18" textLength="30.28" lengthAdjust="spacingAndGlyphs">500</text>
<text x="465.06" y="461.9" font-size="18" textLength="40.63" lengthAdjust="spacingAndGlyphs">1000</text>
<text x="282.9" y="368.17" font-size="18" textLength="45.68" lengthAdjust="spacingAndGlyphs">0.005</text>
<text x="282.57" y="450.5" font-size="18" textLength="45.92" lengthAdjust="spacingAndGlyphs">0.000</text>
<text x="275.05" y="337" font-size="17" textLength="22.27" lengthAdjust="spacingAndGlyphs">(F)</text>
<text x="383.98" y="485.3" font-size="17" font-style="italic" textLength="9.93" lengthAdjust="spacingAndGlyphs">S</text>
<text x="400.55" y="484.4" font-size="15.3" textLength="4.67" lengthAdjust="spacingAndGlyphs">[</text>
<text x="407.43" y="485.3" font-size="17" textLength="23.01" lengthAdjust="spacingAndGlyphs">AU</text>
<text x="431.04" y="484.4" font-size="15.3" textLength="4.67" lengthAdjust="spacingAndGlyphs">]</text>
<line x1="650.08" y1="345.1" x2="650.08" y2="443.9" stroke="#e3e3e3" stroke-width="1"/>
<line x1="575" y1="361.57" x2="725.15" y2="361.57" stroke="#e3e3e3" stroke-width="1"/>
<clipPath id="c7"><rect x="575" y="345.1" width="150.15" height="98.8"/></clipPath><g clip-path="url(#c7)">
<g fill="#e0e0e0" stroke="#101010" stroke-width="1.0">
<rect x="575" y="439.88" width="3" height="4.02"/>
<rect x="578" y="432.4" width="3" height="11.5"/>
<rect x="581.01" y="413.5" width="3" height="30.4"/>
<rect x="584.01" y="396.4" width="3" height="47.5"/>
<rect x="587.01" y="382.5" width="3" height="61.4"/>
<rect x="590.01" y="377.5" width="3" height="66.4"/>
<rect x="593.02" y="385.5" width="3" height="58.4"/>
<rect x="596.02" y="397.8" width="3" height="46.1"/>
<rect x="599.02" y="403.6" width="3" height="40.3"/>
<rect x="602.03" y="409.4" width="3" height="34.5"/>
<rect x="605.03" y="414.5" width="3" height="29.4"/>
<rect x="608.03" y="418.9" width="3" height="25"/>
<rect x="611.04" y="422.2" width="3" height="21.7"/>
<rect x="614.04" y="420.5" width="3" height="23.4"/>
<rect x="617.04" y="424.5" width="3" height="19.4"/>
<rect x="620.04" y="427.3" width="3" height="16.6"/>
<rect x="623.05" y="428.4" width="3" height="15.5"/>
<rect x="626.05" y="427.3" width="3" height="16.6"/>
<rect x="629.05" y="427.9" width="3" height="16"/>
<rect x="632.06" y="430.1" width="3" height="13.8"/>
<rect x="635.06" y="428.4" width="3" height="15.5"/>
<rect x="638.06" y="430.7" width="3" height="13.2"/>
<rect x="641.07" y="431.8" width="3" height="12.1"/>
<rect x="644.07" y="431.3" width="3" height="12.6"/>
<rect x="647.07" y="433.01" width="3" height="10.89"/>
<rect x="650.08" y="433.77" width="3" height="10.13"/>
<rect x="653.08" y="434.71" width="3" height="9.19"/>
<rect x="656.08" y="432.71" width="3" height="11.19"/>
<rect x="659.08" y="435.08" width="3" height="8.82"/>
<rect x="662.09" y="435.98" width="3" height="7.92"/>
<rect x="665.09" y="436.8" width="3" height="7.1"/>
<rect x="668.09" y="436.91" width="3" height="6.99"/>
<rect x="671.1" y="437.33" width="3" height="6.57"/>
<rect x="674.1" y="436.43" width="3" height="7.47"/>
<rect x="677.1" y="438.44" width="3" height="5.46"/>
<rect x="680.11" y="438.45" width="3" height="5.45"/>
<rect x="683.11" y="438.78" width="3" height="5.12"/>
<rect x="686.11" y="439.1" width="3" height="4.8"/>
<rect x="689.11" y="439.33" width="3" height="4.57"/>
<rect x="692.12" y="439.67" width="3" height="4.23"/>
<rect x="695.12" y="439.93" width="3" height="3.97"/>
<rect x="698.12" y="440.17" width="3" height="3.73"/>
<rect x="701.13" y="440.74" width="3" height="3.16"/>
<rect x="704.13" y="440.23" width="3" height="3.67"/>
<rect x="707.13" y="440.83" width="3" height="3.07"/>
<rect x="710.13" y="441.02" width="3" height="2.88"/>
<rect x="713.14" y="441.54" width="3" height="2.36"/>
<rect x="716.14" y="441.38" width="3" height="2.52"/>
<rect x="719.14" y="441.14" width="3" height="2.76"/>
<rect x="722.15" y="441.69" width="3" height="2.21"/>
</g>
<path d="M575.6,443.2 C575.72,442.98 575.58,445.12 576.3,441.9 C577.02,438.68 578.78,429.55 579.9,423.9 C581.02,418.25 582.07,411.98 583,408 C583.93,404.02 584.62,402.83 585.5,400 C586.38,397.17 587.13,393.83 588.3,391 C589.47,388.17 591.25,383.73 592.5,383 C593.75,382.27 594.57,384.35 595.8,386.6 C597.03,388.85 598.53,393.2 599.9,396.5 C601.27,399.8 602.48,403.23 604,406.4 C605.52,409.57 607.33,412.87 609,415.5 C610.67,418.13 612.2,420.27 614,422.2 C615.8,424.13 617.73,425.73 619.8,427.1 C621.87,428.47 623.92,429.37 626.4,430.4 C628.88,431.43 631.6,432.47 634.7,433.3 C637.8,434.13 640.07,434.67 645,435.4 C649.93,436.13 658.62,437.08 664.3,437.7 C669.98,438.32 674.17,438.68 679.1,439.1 C684.03,439.52 686.33,439.82 693.9,440.2 C701.47,440.58 719.4,441.2 724.5,441.4" fill="none" stroke="#a6e2f8" stroke-width="2.5" stroke-linejoin="round" stroke-linecap="round"/>
<path d="M575.6,443.2 C575.72,442.98 575.58,445.12 576.3,441.9 C577.02,438.68 578.78,429.55 579.9,423.9 C581.02,418.25 582.07,411.98 583,408 C583.93,404.02 584.62,402.83 585.5,400 C586.38,397.17 587.13,393.83 588.3,391 C589.47,388.17 591.25,383.73 592.5,383 C593.75,382.27 594.57,384.35 595.8,386.6 C597.03,388.85 598.53,393.2 599.9,396.5 C601.27,399.8 602.48,403.23 604,406.4 C605.52,409.57 607.33,412.87 609,415.5 C610.67,418.13 612.2,420.27 614,422.2 C615.8,424.13 617.73,425.73 619.8,427.1 C621.87,428.47 623.92,429.37 626.4,430.4 C628.88,431.43 631.6,432.47 634.7,433.3 C637.8,434.13 640.07,434.67 645,435.4 C649.93,436.13 658.62,437.08 664.3,437.7 C669.98,438.32 674.17,438.68 679.1,439.1 C684.03,439.52 686.33,439.82 693.9,440.2 C701.47,440.58 719.4,441.2 724.5,441.4" fill="none" stroke="#1fb6ee" stroke-width="1.9" stroke-linejoin="miter" stroke-linecap="round"/>
</g>
<line x1="575" y1="443.9" x2="575" y2="440.4" stroke="#000" stroke-width="1"/>
<line x1="575" y1="345.1" x2="575" y2="348.6" stroke="#000" stroke-width="1"/>
<line x1="650.08" y1="443.9" x2="650.08" y2="440.4" stroke="#000" stroke-width="1"/>
<line x1="650.08" y1="345.1" x2="650.08" y2="348.6" stroke="#000" stroke-width="1"/>
<line x1="725.15" y1="443.9" x2="725.15" y2="440.4" stroke="#000" stroke-width="1"/>
<line x1="725.15" y1="345.1" x2="725.15" y2="348.6" stroke="#000" stroke-width="1"/>
<line x1="575" y1="443.9" x2="578.5" y2="443.9" stroke="#000" stroke-width="1"/>
<line x1="725.15" y1="443.9" x2="721.65" y2="443.9" stroke="#000" stroke-width="1"/>
<line x1="575" y1="361.57" x2="578.5" y2="361.57" stroke="#000" stroke-width="1"/>
<line x1="725.15" y1="361.57" x2="721.65" y2="361.57" stroke="#000" stroke-width="1"/>
<rect x="575" y="345.1" width="150.15" height="98.8" fill="none" stroke="#000" stroke-width="1.8"/>
<text x="627.11" y="363.2" font-size="17" textLength="47.45" lengthAdjust="spacingAndGlyphs">4 [hr]</text>
<text x="570.3" y="461.9" font-size="18" textLength="9.54" lengthAdjust="spacingAndGlyphs">0</text>
<text x="635.02" y="461.9" font-size="18" textLength="30.28" lengthAdjust="spacingAndGlyphs">500</text>
<text x="704.56" y="461.9" font-size="18" textLength="40.63" lengthAdjust="spacingAndGlyphs">1000</text>
<text x="522.2" y="368.17" font-size="18" textLength="45.68" lengthAdjust="spacingAndGlyphs">0.005</text>
<text x="521.87" y="450.5" font-size="18" textLength="45.92" lengthAdjust="spacingAndGlyphs">0.000</text>
<text x="513.93" y="337" font-size="17" textLength="25.76" lengthAdjust="spacingAndGlyphs">(G)</text>
<text x="623.33" y="485.3" font-size="17" font-style="italic" textLength="9.93" lengthAdjust="spacingAndGlyphs">S</text>
<text x="639.9" y="484.4" font-size="15.3" textLength="4.67" lengthAdjust="spacingAndGlyphs">[</text>
<text x="646.78" y="485.3" font-size="17" textLength="23.01" lengthAdjust="spacingAndGlyphs">AU</text>
<text x="670.39" y="484.4" font-size="15.3" textLength="4.67" lengthAdjust="spacingAndGlyphs">]</text>
<line x1="152.85" y1="523.7" x2="152.85" y2="622.1" stroke="#e3e3e3" stroke-width="1"/>
<line x1="77.85" y1="540.1" x2="227.85" y2="540.1" stroke="#e3e3e3" stroke-width="1"/>
<clipPath id="c8"><rect x="77.85" y="523.7" width="150" height="98.4"/></clipPath><g clip-path="url(#c8)">
<g fill="#e0e0e0" stroke="#101010" stroke-width="1.0">
<rect x="77.85" y="616.86" width="3" height="5.24"/>
<rect x="80.85" y="612.78" width="3" height="9.32"/>
<rect x="83.85" y="601.6" width="3" height="20.5"/>
<rect x="86.85" y="589.7" width="3" height="32.4"/>
<rect x="89.85" y="582.9" width="3" height="39.2"/>
<rect x="92.85" y="578.3" width="3" height="43.8"/>
<rect x="95.85" y="581.2" width="3" height="40.9"/>
<rect x="98.85" y="586.8" width="3" height="35.3"/>
<rect x="101.85" y="590.8" width="3" height="31.3"/>
<rect x="104.85" y="591.9" width="3" height="30.2"/>
<rect x="107.85" y="597.6" width="3" height="24.5"/>
<rect x="110.85" y="598.8" width="3" height="23.3"/>
<rect x="113.85" y="600.5" width="3" height="21.6"/>
<rect x="116.85" y="602.2" width="3" height="19.9"/>
<rect x="119.85" y="603.9" width="3" height="18.2"/>
<rect x="122.85" y="605" width="3" height="17.1"/>
<rect x="125.85" y="605.6" width="3" height="16.5"/>
<rect x="128.85" y="606.1" width="3" height="16"/>
<rect x="131.85" y="605.6" width="3" height="16.5"/>
<rect x="134.85" y="606.1" width="3" height="16"/>
<rect x="137.85" y="606.7" width="3" height="15.4"/>
<rect x="140.85" y="607.8" width="3" height="14.3"/>
<rect x="143.85" y="607.8" width="3" height="14.3"/>
<rect x="146.85" y="606.7" width="3" height="15.4"/>
<rect x="149.85" y="606.7" width="3" height="15.4"/>
<rect x="152.85" y="607.94" width="3" height="14.16"/>
<rect x="155.85" y="608.86" width="3" height="13.24"/>
<rect x="158.85" y="609.14" width="3" height="12.96"/>
<rect x="161.85" y="609.34" width="3" height="12.76"/>
<rect x="164.85" y="610.22" width="3" height="11.88"/>
<rect x="167.85" y="611.13" width="3" height="10.97"/>
<rect x="170.85" y="611.34" width="3" height="10.76"/>
<rect x="173.85" y="611.88" width="3" height="10.22"/>
<rect x="176.85" y="611.98" width="3" height="10.12"/>
<rect x="179.85" y="613.25" width="3" height="8.85"/>
<rect x="182.85" y="613.36" width="3" height="8.74"/>
<rect x="185.85" y="613.81" width="3" height="8.29"/>
<rect x="188.85" y="614.23" width="3" height="7.87"/>
<rect x="191.85" y="614.57" width="3" height="7.53"/>
<rect x="194.85" y="615.02" width="3" height="7.08"/>
<rect x="197.85" y="615.38" width="3" height="6.72"/>
<rect x="200.85" y="615.73" width="3" height="6.37"/>
<rect x="203.85" y="616.42" width="3" height="5.68"/>
<rect x="206.85" y="614.99" width="3" height="7.11"/>
<rect x="209.85" y="616.67" width="3" height="5.43"/>
<rect x="212.85" y="616.96" width="3" height="5.14"/>
<rect x="215.85" y="616.75" width="3" height="5.35"/>
<rect x="218.85" y="617.48" width="3" height="4.62"/>
<rect x="221.85" y="617.31" width="3" height="4.79"/>
<rect x="224.85" y="617.96" width="3" height="4.14"/>
</g>
<path d="M78.8,622 C78.87,621.67 78.32,622.82 79.2,620 C80.08,617.18 82.62,609.73 84.1,605.1 C85.58,600.47 86.77,596.33 88.1,592.2 C89.43,588.07 90.77,583.05 92.1,580.3 C93.43,577.55 94.75,575.87 96.1,575.7 C97.45,575.53 98.85,577.62 100.2,579.3 C101.55,580.98 102.87,583.65 104.2,585.8 C105.53,587.95 106.87,590.33 108.2,592.2 C109.53,594.07 110.85,595.58 112.2,597 C113.55,598.42 114.28,599.35 116.3,600.7 C118.32,602.05 121.02,603.83 124.3,605.1 C127.58,606.37 131.8,607.25 136,608.3 C140.2,609.35 144.78,610.52 149.5,611.4 C154.22,612.28 159.37,612.92 164.3,613.6 C169.23,614.28 174.17,615.02 179.1,615.5 C184.03,615.98 185.83,616.02 193.9,616.5 C201.97,616.98 221.9,618.08 227.5,618.4" fill="none" stroke="#a6e2f8" stroke-width="4.7" stroke-linejoin="round" stroke-linecap="round"/>
<path d="M78.8,622 C78.87,621.67 78.32,622.82 79.2,620 C80.08,617.18 82.62,609.73 84.1,605.1 C85.58,600.47 86.77,596.33 88.1,592.2 C89.43,588.07 90.77,583.05 92.1,580.3 C93.43,577.55 94.75,575.87 96.1,575.7 C97.45,575.53 98.85,577.62 100.2,579.3 C101.55,580.98 102.87,583.65 104.2,585.8 C105.53,587.95 106.87,590.33 108.2,592.2 C109.53,594.07 110.85,595.58 112.2,597 C113.55,598.42 114.28,599.35 116.3,600.7 C118.32,602.05 121.02,603.83 124.3,605.1 C127.58,606.37 131.8,607.25 136,608.3 C140.2,609.35 144.78,610.52 149.5,611.4 C154.22,612.28 159.37,612.92 164.3,613.6 C169.23,614.28 174.17,615.02 179.1,615.5 C184.03,615.98 185.83,616.02 193.9,616.5 C201.97,616.98 221.9,618.08 227.5,618.4" fill="none" stroke="#1fb6ee" stroke-width="1.9" stroke-linejoin="miter" stroke-linecap="round"/>
</g>
<line x1="77.85" y1="622.1" x2="77.85" y2="618.6" stroke="#000" stroke-width="1"/>
<line x1="77.85" y1="523.7" x2="77.85" y2="527.2" stroke="#000" stroke-width="1"/>
<line x1="152.85" y1="622.1" x2="152.85" y2="618.6" stroke="#000" stroke-width="1"/>
<line x1="152.85" y1="523.7" x2="152.85" y2="527.2" stroke="#000" stroke-width="1"/>
<line x1="227.85" y1="622.1" x2="227.85" y2="618.6" stroke="#000" stroke-width="1"/>
<line x1="227.85" y1="523.7" x2="227.85" y2="527.2" stroke="#000" stroke-width="1"/>
<line x1="77.85" y1="622.1" x2="81.35" y2="622.1" stroke="#000" stroke-width="1"/>
<line x1="227.85" y1="622.1" x2="224.35" y2="622.1" stroke="#000" stroke-width="1"/>
<line x1="77.85" y1="540.1" x2="81.35" y2="540.1" stroke="#000" stroke-width="1"/>
<line x1="227.85" y1="540.1" x2="224.35" y2="540.1" stroke="#000" stroke-width="1"/>
<rect x="77.85" y="523.7" width="150" height="98.4" fill="none" stroke="#000" stroke-width="1.8"/>
<text x="129.49" y="541.8" font-size="17" textLength="47.72" lengthAdjust="spacingAndGlyphs">8 [hr]</text>
<text x="73.15" y="640.1" font-size="18" textLength="9.54" lengthAdjust="spacingAndGlyphs">0</text>
<text x="137.8" y="640.1" font-size="18" textLength="30.28" lengthAdjust="spacingAndGlyphs">500</text>
<text x="207.26" y="640.1" font-size="18" textLength="40.63" lengthAdjust="spacingAndGlyphs">1000</text>
<text x="25.3" y="546.7" font-size="18" textLength="45.68" lengthAdjust="spacingAndGlyphs">0.005</text>
<text x="24.97" y="628.7" font-size="18" textLength="45.92" lengthAdjust="spacingAndGlyphs">0.000</text>
<text x="16.9" y="515.4" font-size="17" textLength="25.37" lengthAdjust="spacingAndGlyphs">(H)</text>
<text x="126.1" y="663.5" font-size="17" font-style="italic" textLength="9.93" lengthAdjust="spacingAndGlyphs">S</text>
<text x="142.67" y="662.6" font-size="15.3" textLength="4.67" lengthAdjust="spacingAndGlyphs">[</text>
<text x="149.55" y="663.5" font-size="17" textLength="23.01" lengthAdjust="spacingAndGlyphs">AU</text>
<text x="173.17" y="662.6" font-size="15.3" textLength="4.67" lengthAdjust="spacingAndGlyphs">]</text>
<text transform="translate(11.7,621.8) rotate(-90)" x="-1.44" y="0" font-size="17" textLength="85.14" lengthAdjust="spacingAndGlyphs">Frequency</text>
<line x1="410.73" y1="523.7" x2="410.73" y2="622.1" stroke="#e3e3e3" stroke-width="1"/>
<line x1="335.8" y1="540.1" x2="485.65" y2="540.1" stroke="#e3e3e3" stroke-width="1"/>
<clipPath id="c9"><rect x="335.8" y="523.7" width="149.85" height="98.4"/></clipPath><g clip-path="url(#c9)">
<g fill="#e0e0e0" stroke="#101010" stroke-width="1.0">
<rect x="335.8" y="617.46" width="3" height="4.64"/>
<rect x="338.8" y="614.1" width="3" height="8"/>
<rect x="341.79" y="603.9" width="3" height="18.2"/>
<rect x="344.79" y="595.9" width="3" height="26.2"/>
<rect x="347.79" y="590.2" width="3" height="31.9"/>
<rect x="350.79" y="588.5" width="3" height="33.6"/>
<rect x="353.78" y="587.4" width="3" height="34.7"/>
<rect x="356.78" y="595.4" width="3" height="26.7"/>
<rect x="359.78" y="593.1" width="3" height="29"/>
<rect x="362.77" y="598.2" width="3" height="23.9"/>
<rect x="365.77" y="602.2" width="3" height="19.9"/>
<rect x="368.77" y="601" width="3" height="21.1"/>
<rect x="371.76" y="603.9" width="3" height="18.2"/>
<rect x="374.76" y="603.9" width="3" height="18.2"/>
<rect x="377.76" y="606.1" width="3" height="16"/>
<rect x="380.75" y="606.7" width="3" height="15.4"/>
<rect x="383.75" y="607.3" width="3" height="14.8"/>
<rect x="386.75" y="607.3" width="3" height="14.8"/>
<rect x="389.75" y="607.8" width="3" height="14.3"/>
<rect x="392.74" y="608.4" width="3" height="13.7"/>
<rect x="395.74" y="609" width="3" height="13.1"/>
<rect x="398.74" y="609.5" width="3" height="12.6"/>
<rect x="401.73" y="610.1" width="3" height="12"/>
<rect x="404.73" y="610.1" width="3" height="12"/>
<rect x="407.73" y="610.1" width="3" height="12"/>
<rect x="410.73" y="609.5" width="3" height="12.6"/>
<rect x="413.72" y="610.21" width="3" height="11.89"/>
<rect x="416.72" y="608.31" width="3" height="13.79"/>
<rect x="419.72" y="610.34" width="3" height="11.76"/>
<rect x="422.71" y="611.16" width="3" height="10.94"/>
<rect x="425.71" y="611.94" width="3" height="10.16"/>
<rect x="428.71" y="611.99" width="3" height="10.11"/>
<rect x="431.7" y="612.38" width="3" height="9.72"/>
<rect x="434.7" y="612.34" width="3" height="9.76"/>
<rect x="437.7" y="613.48" width="3" height="8.62"/>
<rect x="440.69" y="613.47" width="3" height="8.63"/>
<rect x="443.69" y="613.81" width="3" height="8.29"/>
<rect x="446.69" y="614.13" width="3" height="7.97"/>
<rect x="449.69" y="614.39" width="3" height="7.71"/>
<rect x="452.68" y="614.75" width="3" height="7.35"/>
<rect x="455.68" y="614.08" width="3" height="8.02"/>
<rect x="458.68" y="615.31" width="3" height="6.79"/>
<rect x="461.67" y="615.94" width="3" height="6.16"/>
<rect x="464.67" y="615.42" width="3" height="6.68"/>
<rect x="467.67" y="616.09" width="3" height="6.01"/>
<rect x="470.66" y="615.37" width="3" height="6.73"/>
<rect x="473.66" y="616.92" width="3" height="5.18"/>
<rect x="476.66" y="616.78" width="3" height="5.32"/>
<rect x="479.66" y="616.57" width="3" height="5.53"/>
<rect x="482.65" y="617.2" width="3" height="4.9"/>
</g>
<path d="M336,622 C336.07,621.8 335.67,621.87 336.4,620.8 C337.13,619.73 339.05,618.22 340.4,615.6 C341.75,612.98 343.15,608.47 344.5,605.1 C345.85,601.73 347.3,598.08 348.5,595.4 C349.7,592.72 350.57,590.53 351.7,589 C352.83,587.47 354.08,586.4 355.3,586.2 C356.52,586 357.72,586.87 359,587.8 C360.28,588.73 361.53,590.33 363,591.8 C364.47,593.27 365.92,595.05 367.8,596.6 C369.68,598.15 371.88,599.68 374.3,601.1 C376.72,602.52 378.95,603.95 382.3,605.1 C385.65,606.25 389.87,607.08 394.4,608 C398.93,608.92 404.52,609.8 409.5,610.6 C414.48,611.4 419.37,612.18 424.3,612.8 C429.23,613.42 434.17,613.85 439.1,614.3 C444.03,614.75 446.25,614.95 453.9,615.5 C461.55,616.05 479.82,617.25 485,617.6" fill="none" stroke="#a6e2f8" stroke-width="4.4" stroke-linejoin="round" stroke-linecap="round"/>
<path d="M336,622 C336.07,621.8 335.67,621.87 336.4,620.8 C337.13,619.73 339.05,618.22 340.4,615.6 C341.75,612.98 343.15,608.47 344.5,605.1 C345.85,601.73 347.3,598.08 348.5,595.4 C349.7,592.72 350.57,590.53 351.7,589 C352.83,587.47 354.08,586.4 355.3,586.2 C356.52,586 357.72,586.87 359,587.8 C360.28,588.73 361.53,590.33 363,591.8 C364.47,593.27 365.92,595.05 367.8,596.6 C369.68,598.15 371.88,599.68 374.3,601.1 C376.72,602.52 378.95,603.95 382.3,605.1 C385.65,606.25 389.87,607.08 394.4,608 C398.93,608.92 404.52,609.8 409.5,610.6 C414.48,611.4 419.37,612.18 424.3,612.8 C429.23,613.42 434.17,613.85 439.1,614.3 C444.03,614.75 446.25,614.95 453.9,615.5 C461.55,616.05 479.82,617.25 485,617.6" fill="none" stroke="#1fb6ee" stroke-width="1.9" stroke-linejoin="miter" stroke-linecap="round"/>
</g>
<line x1="335.8" y1="622.1" x2="335.8" y2="618.6" stroke="#000" stroke-width="1"/>
<line x1="335.8" y1="523.7" x2="335.8" y2="527.2" stroke="#000" stroke-width="1"/>
<line x1="410.73" y1="622.1" x2="410.73" y2="618.6" stroke="#000" stroke-width="1"/>
<line x1="410.73" y1="523.7" x2="410.73" y2="527.2" stroke="#000" stroke-width="1"/>
<line x1="485.65" y1="622.1" x2="485.65" y2="618.6" stroke="#000" stroke-width="1"/>
<line x1="485.65" y1="523.7" x2="485.65" y2="527.2" stroke="#000" stroke-width="1"/>
<line x1="335.8" y1="622.1" x2="339.3" y2="622.1" stroke="#000" stroke-width="1"/>
<line x1="485.65" y1="622.1" x2="482.15" y2="622.1" stroke="#000" stroke-width="1"/>
<line x1="335.8" y1="540.1" x2="339.3" y2="540.1" stroke="#000" stroke-width="1"/>
<line x1="485.65" y1="540.1" x2="482.15" y2="540.1" stroke="#000" stroke-width="1"/>
<rect x="335.8" y="523.7" width="149.85" height="98.4" fill="none" stroke="#000" stroke-width="1.8"/>
<text x="381.69" y="541.8" font-size="17" textLength="58.48" lengthAdjust="spacingAndGlyphs">16 [hr]</text>
<text x="331.1" y="640.1" font-size="18" textLength="9.54" lengthAdjust="spacingAndGlyphs">0</text>
<text x="395.67" y="640.1" font-size="18" textLength="30.28" lengthAdjust="spacingAndGlyphs">500</text>
<text x="465.06" y="640.1" font-size="18" textLength="40.63" lengthAdjust="spacingAndGlyphs">1000</text>
<text x="282.9" y="546.7" font-size="18" textLength="45.68" lengthAdjust="spacingAndGlyphs">0.005</text>
<text x="282.57" y="628.7" font-size="18" textLength="45.92" lengthAdjust="spacingAndGlyphs">0.000</text>
<text x="274.97" y="515" font-size="17" textLength="17.71" lengthAdjust="spacingAndGlyphs">(I)</text>
<text x="383.98" y="663.5" font-size="17" font-style="italic" textLength="9.93" lengthAdjust="spacingAndGlyphs">S</text>
<text x="400.55" y="662.6" font-size="15.3" textLength="4.67" lengthAdjust="spacingAndGlyphs">[</text>
<text x="407.43" y="663.5" font-size="17" textLength="23.01" lengthAdjust="spacingAndGlyphs">AU</text>
<text x="431.04" y="662.6" font-size="15.3" textLength="4.67" lengthAdjust="spacingAndGlyphs">]</text>
<line x1="650.05" y1="523.7" x2="650.05" y2="622.1" stroke="#e3e3e3" stroke-width="1"/>
<line x1="575" y1="540.1" x2="725.1" y2="540.1" stroke="#e3e3e3" stroke-width="1"/>
<clipPath id="c10"><rect x="575" y="523.7" width="150.1" height="98.4"/></clipPath><g clip-path="url(#c10)">
<g fill="#e0e0e0" stroke="#101010" stroke-width="1.0">
<rect x="575" y="617.46" width="3" height="4.64"/>
<rect x="578" y="613.38" width="3" height="8.72"/>
<rect x="581" y="606.1" width="3" height="16"/>
<rect x="584.01" y="598.2" width="3" height="23.9"/>
<rect x="587.01" y="592.5" width="3" height="29.6"/>
<rect x="590.01" y="589.7" width="3" height="32.4"/>
<rect x="593.01" y="591.4" width="3" height="30.7"/>
<rect x="596.01" y="595.9" width="3" height="26.2"/>
<rect x="599.02" y="596.5" width="3" height="25.6"/>
<rect x="602.02" y="599.9" width="3" height="22.2"/>
<rect x="605.02" y="601" width="3" height="21.1"/>
<rect x="608.02" y="602.7" width="3" height="19.4"/>
<rect x="611.02" y="603.9" width="3" height="18.2"/>
<rect x="614.03" y="605" width="3" height="17.1"/>
<rect x="617.03" y="605.6" width="3" height="16.5"/>
<rect x="620.03" y="606.7" width="3" height="15.4"/>
<rect x="623.03" y="607.3" width="3" height="14.8"/>
<rect x="626.03" y="607.8" width="3" height="14.3"/>
<rect x="629.04" y="608.4" width="3" height="13.7"/>
<rect x="632.04" y="608.4" width="3" height="13.7"/>
<rect x="635.04" y="609" width="3" height="13.1"/>
<rect x="638.04" y="609.5" width="3" height="12.6"/>
<rect x="641.04" y="609.9" width="3" height="12.2"/>
<rect x="644.05" y="610.1" width="3" height="12"/>
<rect x="647.05" y="610.3" width="3" height="11.8"/>
<rect x="650.05" y="610.74" width="3" height="11.36"/>
<rect x="653.05" y="611.56" width="3" height="10.54"/>
<rect x="656.05" y="611.64" width="3" height="10.46"/>
<rect x="659.06" y="611.65" width="3" height="10.45"/>
<rect x="662.06" y="612.48" width="3" height="9.62"/>
<rect x="665.06" y="613.23" width="3" height="8.87"/>
<rect x="668.06" y="613.25" width="3" height="8.85"/>
<rect x="671.06" y="613.61" width="3" height="8.49"/>
<rect x="674.07" y="613.54" width="3" height="8.56"/>
<rect x="677.07" y="614.66" width="3" height="7.44"/>
<rect x="680.07" y="614.62" width="3" height="7.48"/>
<rect x="683.07" y="614.93" width="3" height="7.17"/>
<rect x="686.07" y="615.22" width="3" height="6.88"/>
<rect x="689.08" y="615.45" width="3" height="6.65"/>
<rect x="692.08" y="615.78" width="3" height="6.32"/>
<rect x="695.08" y="616.05" width="3" height="6.05"/>
<rect x="698.08" y="616.3" width="3" height="5.8"/>
<rect x="701.08" y="616.9" width="3" height="5.2"/>
<rect x="704.09" y="616.36" width="3" height="5.74"/>
<rect x="707.09" y="617" width="3" height="5.1"/>
<rect x="710.09" y="617.22" width="3" height="4.88"/>
<rect x="713.09" y="617.78" width="3" height="4.32"/>
<rect x="716.09" y="617.62" width="3" height="4.48"/>
<rect x="719.1" y="617.39" width="3" height="4.71"/>
<rect x="722.1" y="618" width="3" height="4.1"/>
</g>
<path d="M575.6,622 C575.7,621.8 575.28,621.6 576.2,620.8 C577.12,620 579.62,619.28 581.1,617.2 C582.58,615.12 583.77,611.25 585.1,608.3 C586.43,605.35 587.9,602.05 589.1,599.5 C590.3,596.95 591.23,594.28 592.3,593 C593.37,591.72 594.28,591.8 595.5,591.8 C596.72,591.8 597.98,592.13 599.6,593 C601.22,593.87 602.92,595.52 605.2,597 C607.48,598.48 610.62,600.55 613.3,601.9 C615.98,603.25 617.72,604.15 621.3,605.1 C624.88,606.05 630.1,606.85 634.8,607.6 C639.5,608.35 644.58,608.85 649.5,609.6 C654.42,610.35 659.37,611.37 664.3,612.1 C669.23,612.83 674.17,613.47 679.1,614 C684.03,614.53 686.33,614.75 693.9,615.3 C701.47,615.85 719.4,616.97 724.5,617.3" fill="none" stroke="#a6e2f8" stroke-width="4.4" stroke-linejoin="round" stroke-linecap="round"/>
<path d="M575.6,622 C575.7,621.8 575.28,621.6 576.2,620.8 C577.12,620 579.62,619.28 581.1,617.2 C582.58,615.12 583.77,611.25 585.1,608.3 C586.43,605.35 587.9,602.05 589.1,599.5 C590.3,596.95 591.23,594.28 592.3,593 C593.37,591.72 594.28,591.8 595.5,591.8 C596.72,591.8 597.98,592.13 599.6,593 C601.22,593.87 602.92,595.52 605.2,597 C607.48,598.48 610.62,600.55 613.3,601.9 C615.98,603.25 617.72,604.15 621.3,605.1 C624.88,606.05 630.1,606.85 634.8,607.6 C639.5,608.35 644.58,608.85 649.5,609.6 C654.42,610.35 659.37,611.37 664.3,612.1 C669.23,612.83 674.17,613.47 679.1,614 C684.03,614.53 686.33,614.75 693.9,615.3 C701.47,615.85 719.4,616.97 724.5,617.3" fill="none" stroke="#1fb6ee" stroke-width="1.9" stroke-linejoin="miter" stroke-linecap="round"/>
</g>
<line x1="575" y1="622.1" x2="575" y2="618.6" stroke="#000" stroke-width="1"/>
<line x1="575" y1="523.7" x2="575" y2="527.2" stroke="#000" stroke-width="1"/>
<line x1="650.05" y1="622.1" x2="650.05" y2="618.6" stroke="#000" stroke-width="1"/>
<line x1="650.05" y1="523.7" x2="650.05" y2="527.2" stroke="#000" stroke-width="1"/>
<line x1="725.1" y1="622.1" x2="725.1" y2="618.6" stroke="#000" stroke-width="1"/>
<line x1="725.1" y1="523.7" x2="725.1" y2="527.2" stroke="#000" stroke-width="1"/>
<line x1="575" y1="622.1" x2="578.5" y2="622.1" stroke="#000" stroke-width="1"/>
<line x1="725.1" y1="622.1" x2="721.6" y2="622.1" stroke="#000" stroke-width="1"/>
<line x1="575" y1="540.1" x2="578.5" y2="540.1" stroke="#000" stroke-width="1"/>
<line x1="725.1" y1="540.1" x2="721.6" y2="540.1" stroke="#000" stroke-width="1"/>
<rect x="575" y="523.7" width="150.1" height="98.4" fill="none" stroke="#000" stroke-width="1.8"/>
<text x="621.22" y="541.8" font-size="17" textLength="58.57" lengthAdjust="spacingAndGlyphs">24 [hr]</text>
<text x="570.3" y="640.1" font-size="18" textLength="9.54" lengthAdjust="spacingAndGlyphs">0</text>
<text x="635" y="640.1" font-size="18" textLength="30.28" lengthAdjust="spacingAndGlyphs">500</text>
<text x="704.51" y="640.1" font-size="18" textLength="40.63" lengthAdjust="spacingAndGlyphs">1000</text>
<text x="522.2" y="546.7" font-size="18" textLength="45.68" lengthAdjust="spacingAndGlyphs">0.005</text>
<text x="521.87" y="628.7" font-size="18" textLength="45.92" lengthAdjust="spacingAndGlyphs">0.000</text>
<text x="514.42" y="515" font-size="17" textLength="17.17" lengthAdjust="spacingAndGlyphs">(J)</text>
<text x="623.3" y="663.5" font-size="17" font-style="italic" textLength="9.93" lengthAdjust="spacingAndGlyphs">S</text>
<text x="639.87" y="662.6" font-size="15.3" textLength="4.67" lengthAdjust="spacingAndGlyphs">[</text>
<text x="646.75" y="663.5" font-size="17" textLength="23.01" lengthAdjust="spacingAndGlyphs">AU</text>
<text x="670.37" y="662.6" font-size="15.3" textLength="4.67" lengthAdjust="spacingAndGlyphs">]</text>
<line x1="108.22" y1="702.2" x2="108.22" y2="801" stroke="#e3e3e3" stroke-width="1"/>
<line x1="194.74" y1="702.2" x2="194.74" y2="801" stroke="#e3e3e3" stroke-width="1"/>
<clipPath id="c11"><rect x="21.7" y="702.2" width="216.3" height="98.8"/></clipPath><g clip-path="url(#c11)">
<polygon points="21.7,692.36 21.92,695.68 22.13,698.78 22.57,704.36 23,709.25 23.65,715.53 24.3,720.79 25.16,726.6 26.03,731.38 27.32,737.19 28.62,741.85 30.35,746.89 32.52,751.94 34.68,756.05 39,762.43 43.33,767.21 47.66,770.93 56.31,776.36 64.96,780.13 77.94,784.02 90.92,786.69 108.22,789.17 129.85,791.28 151.48,792.75 173.11,793.83 194.74,794.66 216.37,795.32 238,795.86 242.33,795.95 242.33,795.95 238,795.86 216.37,795.32 194.74,794.66 173.11,793.83 151.48,792.75 129.85,791.28 108.22,789.18 90.92,786.72 77.94,784.1 64.96,780.34 56.31,776.8 47.66,771.9 43.33,768.68 39,764.74 34.68,759.82 32.52,756.87 30.35,753.52 28.62,750.5 27.32,748 26.03,745.27 25.16,743.31 24.3,741.22 23.65,739.57 23,737.83 22.57,736.63 22.13,735.38 21.92,734.74 21.7,734.09" fill="#70c3f7"/>
<path d="M22.13,722.5 C22.2,722.5 22.42,722.5 22.57,722.5 C22.71,722.5 22.82,722.31 23,722.5 C23.18,722.69 23.43,722.94 23.65,723.66 C23.86,724.38 24.04,725.65 24.3,726.82 C24.55,727.98 24.87,729.43 25.16,730.64 C25.45,731.85 25.67,732.75 26.03,734.09 C26.39,735.43 26.89,737.24 27.32,738.67 C27.76,740.1 28.12,741.24 28.62,742.67 C29.13,744.1 29.7,745.69 30.35,747.26 C31,748.83 31.79,750.6 32.52,752.08 C33.24,753.55 33.6,754.37 34.68,756.1 C35.76,757.83 37.56,760.59 39,762.44 C40.45,764.29 41.89,765.8 43.33,767.21 C44.77,768.63 45.49,769.41 47.66,770.93 C49.82,772.46 53.42,774.83 56.31,776.36 C59.19,777.89 61.35,778.85 64.96,780.13 C68.56,781.41 73.61,782.93 77.94,784.02 C82.26,785.12 85.87,785.83 90.92,786.69 C95.96,787.55 101.73,788.41 108.22,789.17 C114.71,789.94 122.64,790.68 129.85,791.28 C137.06,791.87 144.27,792.32 151.48,792.75 C158.69,793.17 165.9,793.51 173.11,793.83 C180.32,794.15 187.53,794.41 194.74,794.66 C201.95,794.91 209.16,795.12 216.37,795.32 C223.58,795.52 233.67,795.75 238,795.86 C242.33,795.96 241.6,795.94 242.33,795.95" fill="none" stroke="#000" stroke-width="3.9" stroke-linejoin="round"/>
</g>
<line x1="21.7" y1="801" x2="21.7" y2="797.5" stroke="#000" stroke-width="1"/>
<line x1="21.7" y1="702.2" x2="21.7" y2="705.7" stroke="#000" stroke-width="1"/>
<line x1="108.22" y1="801" x2="108.22" y2="797.5" stroke="#000" stroke-width="1"/>
<line x1="108.22" y1="702.2" x2="108.22" y2="705.7" stroke="#000" stroke-width="1"/>
<line x1="194.74" y1="801" x2="194.74" y2="797.5" stroke="#000" stroke-width="1"/>
<line x1="194.74" y1="702.2" x2="194.74" y2="705.7" stroke="#000" stroke-width="1"/>
<rect x="21.7" y="702.2" width="216.3" height="98.8" fill="none" stroke="#000" stroke-width="1.8"/>
<text x="17" y="819" font-size="18" textLength="9.54" lengthAdjust="spacingAndGlyphs">0</text>
<text x="103.75" y="819" font-size="18" textLength="9.17" lengthAdjust="spacingAndGlyphs">2</text>
<text x="190.18" y="819" font-size="18" textLength="9.51" lengthAdjust="spacingAndGlyphs">4</text>
<text x="215.15" y="815.5" font-size="16" textLength="9.58" lengthAdjust="spacingAndGlyphs">×</text>
<text x="225.32" y="814" font-size="12.6" textLength="16.02" lengthAdjust="spacingAndGlyphs">10</text>
<rect x="242.6" y="807" width="5.4" height="0.95"/>
<text x="248.42" y="810.4" font-size="8.6" textLength="5.92" lengthAdjust="spacingAndGlyphs">8</text>
<text x="-0.67" y="693.1" font-size="17" textLength="23.8" lengthAdjust="spacingAndGlyphs">(K)</text>
<text transform="translate(12.5,783.3) rotate(-90)" x="-1.52" y="0" font-size="17" textLength="63.41" lengthAdjust="spacingAndGlyphs">Density</text>
<text x="92.71" y="838.4" font-size="17" font-style="italic" textLength="6.55" lengthAdjust="spacingAndGlyphs">r</text>
<text x="104" y="837.5" font-size="15.3" textLength="4.67" lengthAdjust="spacingAndGlyphs">[</text>
<text x="109.94" y="838.4" font-size="17" textLength="30.83" lengthAdjust="spacingAndGlyphs">m s</text>
<rect x="142.88" y="827.8" width="6.6" height="1.15"/>
<text x="151.49" y="832.7" font-size="11.9" textLength="5.88" lengthAdjust="spacingAndGlyphs">1</text>
<text x="160.4" y="837.5" font-size="15.3" textLength="4.67" lengthAdjust="spacingAndGlyphs">]</text>
<line x1="364.35" y1="702.1" x2="364.35" y2="800.5" stroke="#e3e3e3" stroke-width="1"/>
<line x1="452.65" y1="702.1" x2="452.65" y2="800.5" stroke="#e3e3e3" stroke-width="1"/>
<clipPath id="c12"><rect x="276.05" y="702.1" width="220.75" height="98.4"/></clipPath><g clip-path="url(#c12)">
<polygon points="276.4,800.6 276.51,799.09 276.66,797.16 276.84,794.89 277.04,792.33 277.25,789.57 277.47,786.66 277.69,783.68 277.91,780.7 278.11,777.78 278.3,775 278.47,772.28 278.62,769.51 278.76,766.71 278.9,763.87 279.04,761.02 279.19,758.15 279.34,755.28 279.51,752.4 279.69,749.54 279.9,746.7 280.12,743.79 280.34,740.77 280.56,737.68 280.79,734.57 281.04,731.49 281.31,728.5 281.61,725.65 281.94,722.98 282.3,720.55 282.7,718.4 283.15,716.53 283.66,714.88 284.2,713.43 284.78,712.16 285.38,711.04 285.99,710.05 286.61,709.17 287.22,708.39 287.82,707.67 288.4,707 288.96,706.4 289.5,705.92 290.04,705.53 290.58,705.25 291.11,705.06 291.66,704.96 292.21,704.94 292.79,704.99 293.38,705.11 294,705.3 294.65,705.54 295.32,705.85 296.02,706.23 296.73,706.68 297.46,707.22 298.19,707.84 298.92,708.55 299.66,709.36 300.38,710.28 301.1,711.3 301.8,712.45 302.5,713.74 303.19,715.14 303.87,716.65 304.56,718.24 305.26,719.9 305.97,721.61 306.69,723.36 307.43,725.13 308.2,726.9 309,728.74 309.83,730.68 310.69,732.71 311.57,734.79 312.45,736.89 313.33,738.98 314.21,741.04 315.07,743.03 315.9,744.93 316.7,746.7 317.47,748.37 318.21,749.97 318.93,751.5 319.64,752.98 320.34,754.41 321.03,755.79 321.71,757.13 322.4,758.42 323.1,759.68 323.8,760.9 324.51,762.08 325.22,763.22 325.93,764.3 326.64,765.34 327.35,766.34 328.06,767.31 328.77,768.25 329.48,769.15 330.19,770.04 330.9,770.9 331.61,771.73 332.32,772.53 333.03,773.29 333.74,774.02 334.45,774.73 335.16,775.41 335.87,776.07 336.58,776.72 337.29,777.36 338,778 338.67,778.62 339.3,779.2 339.88,779.77 340.47,780.31 341.06,780.84 341.7,781.37 342.4,781.91 343.18,782.45 344.07,783.01 345.1,783.6 346.24,784.21 347.45,784.85 348.74,785.5 350.11,786.16 351.56,786.83 353.08,787.49 354.69,788.14 356.38,788.78 358.15,789.4 360,790 361.95,790.58 364.02,791.16 366.18,791.74 368.42,792.31 370.74,792.86 373.12,793.39 375.55,793.9 378.01,794.37 380.5,794.81 383,795.2 385.48,795.55 387.94,795.85 390.4,796.12 392.89,796.36 395.44,796.57 398.07,796.76 400.82,796.94 403.7,797.1 406.76,797.25 410,797.4 413.44,797.54 417.05,797.65 420.81,797.75 424.7,797.83 428.72,797.9 432.84,797.96 437.04,798.02 441.31,798.08 445.64,798.13 450,798.2 454.66,798.27 459.78,798.34 465.19,798.41 470.74,798.48 476.25,798.55 481.56,798.61 486.5,798.67 490.92,798.72 494.64,798.77 497.5,798.8 497.5,799.4 494.64,799.38 490.92,799.34 486.5,799.31 481.56,799.26 476.25,799.22 470.74,799.17 465.19,799.13 459.78,799.08 454.66,799.04 450,799 445.64,798.97 441.31,798.95 437.04,798.94 432.84,798.93 428.72,798.92 424.7,798.9 420.81,798.88 417.05,798.84 413.44,798.78 410,798.7 406.76,798.61 403.7,798.51 400.82,798.41 398.07,798.29 395.44,798.16 392.89,798.02 390.4,797.85 387.94,797.66 385.48,797.44 383,797.2 380.53,796.93 378.11,796.63 375.73,796.31 373.4,795.97 371.1,795.61 368.84,795.22 366.6,794.82 364.38,794.4 362.18,793.96 360,793.5 357.79,793.01 355.53,792.48 353.26,791.92 351.01,791.33 348.79,790.74 346.65,790.14 344.62,789.54 342.71,788.97 340.96,788.42 339.4,787.9 338.06,787.43 336.93,787 335.96,786.6 335.13,786.22 334.39,785.84 333.72,785.46 333.07,785.05 332.41,784.62 331.7,784.14 330.9,783.6 330.05,783.02 329.2,782.4 328.35,781.76 327.5,781.1 326.65,780.4 325.8,779.68 324.95,778.92 324.1,778.14 323.25,777.34 322.4,776.5 321.54,775.62 320.68,774.7 319.81,773.74 318.93,772.74 318.06,771.73 317.2,770.69 316.35,769.66 315.51,768.62 314.69,767.6 313.9,766.6 313.13,765.62 312.39,764.64 311.67,763.68 310.96,762.71 310.26,761.74 309.57,760.77 308.89,759.78 308.2,758.78 307.5,757.75 306.8,756.7 306.09,755.59 305.37,754.41 304.65,753.19 303.93,751.94 303.21,750.69 302.49,749.46 301.78,748.29 301.08,747.19 300.38,746.18 299.7,745.3 299.02,744.48 298.35,743.66 297.68,742.86 297.02,742.13 296.36,741.47 295.72,740.93 295.09,740.53 294.47,740.28 293.88,740.23 293.3,740.4 292.75,740.77 292.21,741.31 291.7,742.02 291.2,742.88 290.72,743.89 290.24,745.04 289.78,746.34 289.32,747.77 288.86,749.32 288.4,751 287.94,752.9 287.47,755.07 287.01,757.46 286.56,760.01 286.11,762.66 285.67,765.33 285.25,767.97 284.84,770.52 284.46,772.92 284.1,775.1 283.77,777.12 283.46,779.07 283.16,780.96 282.89,782.78 282.63,784.52 282.39,786.18 282.15,787.77 281.93,789.27 281.71,790.68 281.5,792 281.29,793.23 281.09,794.39 280.9,795.46 280.71,796.45 280.54,797.36 280.38,798.18 280.23,798.91 280.1,799.56 279.99,800.13 279.9,800.6" fill="#70c3f7"/>
<path d="M276.6,800.6 C276.92,798.67 277.83,793.25 278.5,789 C279.17,784.75 279.78,782.15 280.6,775.1 C281.42,768.05 282.47,753.78 283.4,746.7 C284.33,739.62 285.25,735.78 286.2,732.6 C287.15,729.42 288.08,728.67 289.1,727.6 C290.12,726.53 291,725.85 292.3,726.2 C293.6,726.55 295.18,727.7 296.9,729.7 C298.62,731.7 300.48,734.88 302.6,738.2 C304.72,741.52 307.25,746.05 309.6,749.6 C311.95,753.15 314.33,756.43 316.7,759.5 C319.07,762.57 321.43,765.4 323.8,768 C326.17,770.6 328.53,772.97 330.9,775.1 C333.27,777.23 335.63,779.15 338,780.8 C340.37,782.45 342.73,783.73 345.1,785 C347.47,786.27 348.93,787.13 352.2,788.4 C355.47,789.67 359.57,791.37 364.7,792.6 C369.83,793.83 376.38,794.97 383,795.8 C389.62,796.63 395.47,797.17 404.4,797.6 C413.33,798.03 421.08,798.17 436.6,798.4 C452.12,798.63 487.35,798.9 497.5,799" fill="none" stroke="#000" stroke-width="4.2" stroke-linejoin="round"/>
</g>
<line x1="276.05" y1="800.5" x2="276.05" y2="797" stroke="#000" stroke-width="1"/>
<line x1="276.05" y1="702.1" x2="276.05" y2="705.6" stroke="#000" stroke-width="1"/>
<line x1="364.35" y1="800.5" x2="364.35" y2="797" stroke="#000" stroke-width="1"/>
<line x1="364.35" y1="702.1" x2="364.35" y2="705.6" stroke="#000" stroke-width="1"/>
<line x1="452.65" y1="800.5" x2="452.65" y2="797" stroke="#000" stroke-width="1"/>
<line x1="452.65" y1="702.1" x2="452.65" y2="705.6" stroke="#000" stroke-width="1"/>
<rect x="276.05" y="702.1" width="220.75" height="98.4" fill="none" stroke="#000" stroke-width="1.8"/>
<text x="271.35" y="818.6" font-size="18" textLength="9.54" lengthAdjust="spacingAndGlyphs">0</text>
<text x="348.95" y="818.6" font-size="18" textLength="30.34" lengthAdjust="spacingAndGlyphs">100</text>
<text x="437.41" y="818.6" font-size="18" textLength="30.47" lengthAdjust="spacingAndGlyphs">200</text>
<text x="254.23" y="693.1" font-size="17" textLength="21.78" lengthAdjust="spacingAndGlyphs">(L)</text>
<text transform="translate(267.4,783.2) rotate(-90)" x="-1.49" y="0" font-size="17" textLength="62.08" lengthAdjust="spacingAndGlyphs">Density</text>
<text x="339.5" y="841.9" font-size="17" font-style="italic" textLength="11.07" lengthAdjust="spacingAndGlyphs">K</text>
<text x="355.54" y="841" font-size="15.3" textLength="4.67" lengthAdjust="spacingAndGlyphs">[</text>
<text x="362.36" y="841.9" font-size="17" textLength="50.46" lengthAdjust="spacingAndGlyphs">p. cell</text>
<rect x="413.62" y="833.4" width="6.4" height="1.05"/>
<text x="421.56" y="836.5" font-size="7.6" textLength="5.63" lengthAdjust="spacingAndGlyphs">1</text>
<text x="429.24" y="841" font-size="15.3" textLength="4.67" lengthAdjust="spacingAndGlyphs">]</text>
<line x1="564.4" y1="709" x2="564.4" y2="801" stroke="#e3e3e3" stroke-width="1"/>
<line x1="650.2" y1="709" x2="650.2" y2="801" stroke="#e3e3e3" stroke-width="1"/>
<line x1="736" y1="709" x2="736" y2="801" stroke="#e3e3e3" stroke-width="1"/>
<line x1="559.05" y1="754.8" x2="740.5" y2="754.8" stroke="#e3e3e3" stroke-width="1"/>
<clipPath id="c13"><rect x="559.05" y="709" width="181.45" height="92"/></clipPath><g clip-path="url(#c13)">
<polygon points="564.4,801 564.42,800.96 564.43,800.97 564.44,801 564.45,801.03 564.47,801.02 564.51,800.96 564.57,800.8 564.67,800.52 564.81,800.1 565,799.5 565.23,798.7 565.5,797.7 565.8,796.54 566.14,795.27 566.5,793.91 566.89,792.5 567.31,791.08 567.75,789.68 568.21,788.34 568.7,787.1 569.2,785.93 569.72,784.76 570.26,783.61 570.82,782.47 571.41,781.34 572.03,780.23 572.69,779.13 573.38,778.04 574.12,776.96 574.9,775.9 575.73,774.85 576.6,773.8 577.52,772.76 578.47,771.73 579.46,770.72 580.48,769.72 581.53,768.75 582.6,767.81 583.69,766.89 584.8,766 585.94,765.14 587.12,764.3 588.33,763.49 589.58,762.7 590.84,761.94 592.11,761.2 593.39,760.48 594.67,759.8 595.94,759.13 597.2,758.5 598.45,757.9 599.7,757.34 600.95,756.8 602.2,756.3 603.45,755.82 604.7,755.36 605.95,754.91 607.2,754.47 608.45,754.03 609.7,753.6 610.94,753.17 612.19,752.76 613.43,752.35 614.67,751.96 615.91,751.57 617.14,751.2 618.38,750.84 619.62,750.48 620.86,750.14 622.1,749.8 623.33,749.47 624.54,749.16 625.74,748.85 626.94,748.56 628.14,748.27 629.36,747.99 630.6,747.71 631.86,747.44 633.16,747.17 634.5,746.9 635.86,746.64 637.2,746.4 638.55,746.17 639.92,745.94 641.33,745.72 642.79,745.49 644.31,745.25 645.91,744.99 647.6,744.71 649.4,744.4 651.32,744.06 653.34,743.69 655.46,743.29 657.66,742.88 659.93,742.46 662.24,742.04 664.59,741.61 666.96,741.19 669.33,740.79 671.7,740.4 674.09,740.03 676.52,739.65 678.98,739.28 681.48,738.92 683.99,738.56 686.52,738.2 689.06,737.86 691.58,737.53 694.1,737.21 696.6,736.9 699.13,736.6 701.73,736.32 704.37,736.04 707.03,735.77 709.66,735.51 712.23,735.26 714.73,735.02 717.11,734.8 719.34,734.59 721.4,734.4 723.33,734.22 725.18,734.06 726.94,733.91 728.6,733.77 730.15,733.64 731.58,733.53 732.87,733.43 734.01,733.34 734.99,733.27 735.8,733.2 735.8,801.5 564.4,801.5" fill="#7ddcfa"/>
<polygon points="564.4,801 564.49,800.96 564.51,800.94 564.51,800.92 564.52,800.89 564.59,800.84 564.74,800.77 565.02,800.66 565.47,800.5 566.11,800.29 567,800 568.13,799.63 569.47,799.17 571,798.65 572.68,798.07 574.51,797.46 576.44,796.84 578.46,796.21 580.54,795.6 582.66,795.03 584.8,794.5 586.93,794.01 589.07,793.54 591.24,793.08 593.48,792.63 595.81,792.19 598.25,791.76 600.83,791.34 603.58,790.92 606.53,790.51 609.7,790.1 613.17,789.69 616.97,789.28 621.02,788.87 625.26,788.46 629.61,788.06 634,787.68 638.36,787.3 642.63,786.95 646.73,786.61 650.6,786.3 654.17,786.01 657.5,785.75 660.65,785.52 663.7,785.3 666.73,785.09 669.81,784.89 673.03,784.69 676.44,784.5 680.14,784.3 684.2,784.1 688.86,783.88 694.19,783.66 699.98,783.42 706.02,783.19 712.1,782.96 718.01,782.75 723.55,782.55 728.49,782.37 732.65,782.22 735.8,782.1 735.8,798 700,798.3 670,798.8 640,799.6 600,800.6 564.4,801" fill="#3e6bc9"/>
<path d="M564.4,801 C567,800.6 572.45,799.38 580,798.6 C587.55,797.82 597.93,796.9 609.7,796.3 C621.47,795.7 638.18,795.38 650.6,795 C663.02,794.62 670,794.37 684.2,794 C698.4,793.63 727.2,793 735.8,792.8" fill="none" stroke="#00008b" stroke-width="2.0"/>
<line x1="650.2" y1="709" x2="650.2" y2="801" stroke="#000" stroke-opacity="0.07" stroke-width="1"/>
<line x1="559" y1="754.8" x2="740.5" y2="754.8" stroke="#000" stroke-opacity="0.07" stroke-width="1"/>
</g>
<line x1="564.4" y1="801" x2="564.4" y2="797.5" stroke="#000" stroke-width="1"/>
<line x1="564.4" y1="709" x2="564.4" y2="712.5" stroke="#000" stroke-width="1"/>
<line x1="650.2" y1="801" x2="650.2" y2="797.5" stroke="#000" stroke-width="1"/>
<line x1="650.2" y1="709" x2="650.2" y2="712.5" stroke="#000" stroke-width="1"/>
<line x1="736" y1="801" x2="736" y2="797.5" stroke="#000" stroke-width="1"/>
<line x1="736" y1="709" x2="736" y2="712.5" stroke="#000" stroke-width="1"/>
<line x1="559.05" y1="801" x2="562.55" y2="801" stroke="#000" stroke-width="1"/>
<line x1="740.5" y1="801" x2="737" y2="801" stroke="#000" stroke-width="1"/>
<line x1="559.05" y1="754.8" x2="562.55" y2="754.8" stroke="#000" stroke-width="1"/>
<line x1="740.5" y1="754.8" x2="737" y2="754.8" stroke="#000" stroke-width="1"/>
<line x1="559.05" y1="708.6" x2="562.55" y2="708.6" stroke="#000" stroke-width="1"/>
<line x1="740.5" y1="708.6" x2="737" y2="708.6" stroke="#000" stroke-width="1"/>
<rect x="559.05" y="709" width="181.45" height="92" fill="none" stroke="#000" stroke-width="1.8"/>
<text x="559.7" y="819" font-size="18" textLength="9.54" lengthAdjust="spacingAndGlyphs">0</text>
<text x="640.35" y="819" font-size="18" textLength="19.51" lengthAdjust="spacingAndGlyphs">12</text>
<text x="725.91" y="819" font-size="18" textLength="20.07" lengthAdjust="spacingAndGlyphs">24</text>
<text x="541.78" y="807.6" font-size="18" textLength="9.54" lengthAdjust="spacingAndGlyphs">0</text>
<text x="531.57" y="761.4" font-size="18" textLength="19.8" lengthAdjust="spacingAndGlyphs">50</text>
<text x="521.06" y="715.2" font-size="18" textLength="30.34" lengthAdjust="spacingAndGlyphs">100</text>
<text x="507.24" y="693.1" font-size="17" textLength="26.6" lengthAdjust="spacingAndGlyphs">(M)</text>
<g transform="translate(522.3,770.2) rotate(-90)">
<text x="0" y="0" font-size="17" font-style="italic" textLength="9.65" lengthAdjust="spacingAndGlyphs">P</text>
<text x="9.65" y="0" font-size="17" textLength="6.24" lengthAdjust="spacingAndGlyphs">(</text>
<text x="15.89" y="0" font-size="17" font-style="italic" textLength="6.27" lengthAdjust="spacingAndGlyphs">t</text>
<text x="22.16" y="0" font-size="17" textLength="6.24" lengthAdjust="spacingAndGlyphs">)</text>
</g>
<text x="628.12" y="842" font-size="17" font-style="italic" textLength="6.07" lengthAdjust="spacingAndGlyphs">t</text>
<text x="640.72" y="841.1" font-size="15.3" textLength="4.67" lengthAdjust="spacingAndGlyphs">[</text>
<text x="646.71" y="842" font-size="17" textLength="15.12" lengthAdjust="spacingAndGlyphs">hr</text>
<text x="665.82" y="841.1" font-size="15.3" textLength="4.67" lengthAdjust="spacingAndGlyphs">]</text>
</svg></body></html>
